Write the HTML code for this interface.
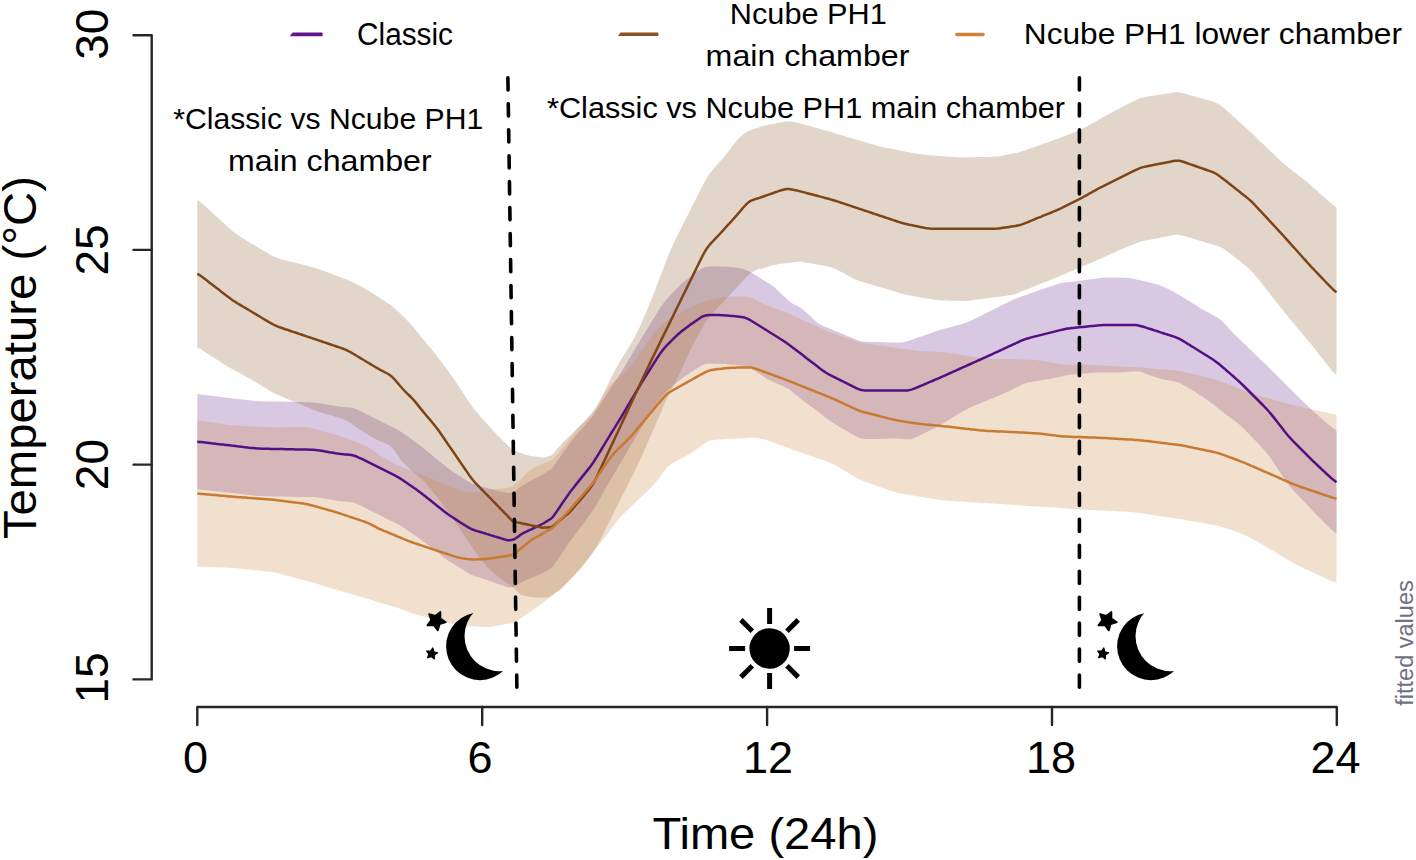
<!DOCTYPE html>
<html><head><meta charset="utf-8"><style>
html,body{margin:0;padding:0;background:#fff;}
body{width:1416px;height:860px;overflow:hidden;position:relative;}
svg{position:absolute;left:0;top:0;}
text{font-family:"Liberation Sans",sans-serif;}
</style></head><body>
<svg width="1416" height="860" viewBox="0 0 1416 860">
<path d="M197.3,394.2 L199.3,394.3 L201.3,394.6 L203.3,394.8 L205.3,395.0 L207.3,395.3 L209.3,395.5 L211.3,395.8 L213.3,396.0 L215.3,396.3 L217.3,396.5 L219.3,396.8 L221.3,397.0 L223.3,397.3 L225.3,397.5 L227.3,397.7 L229.3,398.0 L231.3,398.2 L233.3,398.5 L235.3,398.7 L237.3,398.9 L239.3,399.2 L241.3,399.4 L243.3,399.6 L245.3,399.9 L247.3,400.1 L249.3,400.3 L251.3,400.5 L253.3,400.8 L255.3,401.0 L257.3,401.1 L259.3,401.2 L261.3,401.3 L263.3,401.3 L265.3,401.4 L267.3,401.4 L269.3,401.4 L271.3,401.5 L273.3,401.5 L275.3,401.5 L277.3,401.6 L279.3,401.6 L281.3,401.6 L283.3,401.7 L285.3,401.7 L287.3,401.8 L289.3,401.8 L291.3,401.8 L293.3,401.9 L295.3,401.9 L297.3,402.0 L299.3,402.0 L301.3,402.1 L303.3,402.1 L305.3,402.2 L307.3,402.3 L309.3,402.3 L311.3,402.4 L313.3,402.5 L315.3,402.6 L317.3,402.9 L319.3,403.2 L321.3,403.5 L323.3,403.9 L325.3,404.2 L327.3,404.6 L329.3,404.9 L331.3,405.3 L333.3,405.6 L335.3,406.0 L337.3,406.3 L339.3,406.6 L341.3,406.8 L343.3,407.0 L345.3,407.2 L347.3,407.3 L349.3,407.5 L351.3,407.7 L353.3,408.1 L355.3,408.8 L357.3,409.6 L359.3,410.5 L361.3,411.5 L363.3,412.5 L365.3,413.5 L367.3,414.4 L369.3,415.4 L371.3,416.4 L373.3,417.4 L375.3,418.4 L377.3,419.4 L379.3,420.4 L381.3,421.4 L383.3,422.4 L385.3,423.4 L387.3,424.4 L389.3,425.4 L391.3,426.5 L393.3,427.5 L395.3,428.5 L397.3,429.6 L399.3,430.7 L401.3,432.0 L403.3,433.4 L405.3,434.8 L407.3,436.2 L409.3,437.6 L411.3,439.1 L413.3,440.5 L415.3,441.9 L417.3,443.4 L419.3,444.9 L421.3,446.4 L423.3,448.0 L425.3,449.7 L427.3,451.3 L429.3,453.0 L431.3,454.6 L433.3,456.3 L435.3,457.9 L437.3,459.6 L439.3,461.2 L441.3,462.9 L443.3,464.5 L445.3,466.1 L447.3,467.7 L449.3,469.1 L451.3,470.5 L453.3,471.9 L455.3,473.2 L457.3,474.5 L459.3,475.8 L461.3,477.1 L463.3,478.4 L465.3,479.7 L467.3,481.0 L469.3,482.1 L471.3,483.2 L473.3,484.0 L475.3,484.7 L477.3,485.3 L479.3,485.9 L481.3,486.4 L483.3,487.0 L485.3,487.5 L487.3,488.1 L489.3,488.6 L491.3,489.1 L493.3,489.6 L495.3,490.2 L497.3,490.7 L499.3,491.2 L501.3,491.6 L503.3,492.1 L505.3,492.6 L507.3,493.1 L509.3,493.1 L511.3,492.6 L513.3,492.1 L515.3,491.0 L517.3,489.4 L519.3,487.8 L521.3,486.3 L523.3,484.9 L525.3,483.8 L527.3,482.7 L529.3,481.6 L531.3,480.6 L533.3,479.5 L535.3,478.4 L537.3,477.4 L539.3,476.3 L541.3,475.3 L543.3,474.2 L545.3,472.9 L547.3,471.6 L549.3,470.3 L551.3,469.0 L553.3,466.9 L555.3,464.0 L557.3,461.1 L559.3,458.2 L561.3,455.3 L563.3,452.4 L565.3,449.5 L567.3,446.7 L569.3,443.9 L571.3,441.4 L573.3,439.0 L575.3,436.6 L577.3,434.2 L579.3,431.8 L581.3,429.5 L583.3,427.2 L585.3,424.8 L587.3,422.5 L589.3,420.1 L591.3,417.7 L593.3,415.0 L595.3,412.2 L597.3,409.2 L599.3,406.1 L601.3,403.0 L603.3,399.8 L605.3,396.7 L607.3,393.6 L609.3,390.5 L611.3,387.4 L613.3,384.4 L615.3,381.3 L617.3,378.2 L619.3,375.0 L621.3,371.9 L623.3,368.7 L625.3,365.4 L627.3,362.1 L629.3,358.7 L631.3,355.4 L633.3,352.0 L635.3,348.6 L637.3,345.2 L639.3,341.9 L641.3,338.6 L643.3,335.3 L645.3,332.0 L647.3,328.8 L649.3,325.5 L651.3,322.3 L653.3,319.0 L655.3,315.7 L657.3,312.4 L659.3,309.2 L661.3,306.2 L663.3,303.4 L665.3,300.9 L667.3,298.6 L669.3,296.3 L671.3,294.2 L673.3,292.1 L675.3,290.0 L677.3,287.9 L679.3,285.9 L681.3,284.1 L683.3,282.3 L685.3,280.7 L687.3,279.2 L689.3,277.6 L691.3,276.1 L693.3,274.6 L695.3,273.1 L697.3,271.6 L699.3,270.1 L701.3,268.8 L703.3,267.7 L705.3,267.0 L707.3,266.7 L709.3,266.5 L711.3,266.4 L713.3,266.4 L715.3,266.4 L717.3,266.4 L719.3,266.4 L721.3,266.4 L723.3,266.5 L725.3,266.6 L727.3,266.8 L729.3,267.0 L731.3,267.2 L733.3,267.4 L735.3,267.6 L737.3,267.8 L739.3,268.0 L741.3,268.4 L743.3,269.0 L745.3,269.7 L747.3,270.5 L749.3,271.5 L751.3,272.6 L753.3,273.8 L755.3,275.1 L757.3,276.3 L759.3,277.6 L761.3,278.8 L763.3,280.0 L765.3,281.2 L767.3,282.4 L769.3,283.6 L771.3,285.0 L773.3,286.5 L775.3,288.1 L777.3,290.0 L779.3,291.9 L781.3,293.8 L783.3,295.7 L785.3,297.6 L787.3,299.5 L789.3,301.2 L791.3,302.7 L793.3,303.9 L795.3,304.9 L797.3,305.8 L799.3,306.9 L801.3,308.3 L803.3,309.9 L805.3,311.6 L807.3,313.4 L809.3,315.3 L811.3,317.1 L813.3,318.9 L815.3,320.7 L817.3,322.4 L819.3,323.8 L821.3,325.0 L823.3,325.9 L825.3,326.8 L827.3,327.6 L829.3,328.5 L831.3,329.3 L833.3,330.1 L835.3,331.0 L837.3,331.8 L839.3,332.6 L841.3,333.4 L843.3,334.3 L845.3,335.1 L847.3,335.9 L849.3,336.8 L851.3,337.6 L853.3,338.4 L855.3,339.2 L857.3,340.0 L859.3,340.7 L861.3,341.2 L863.3,341.5 L865.3,341.7 L867.3,341.8 L869.3,341.8 L871.3,341.9 L873.3,342.0 L875.3,342.0 L877.3,342.1 L879.3,342.1 L881.3,342.2 L883.3,342.2 L885.3,342.3 L887.3,342.4 L889.3,342.4 L891.3,342.5 L893.3,342.5 L895.3,342.6 L897.3,342.6 L899.3,342.6 L901.3,342.5 L903.3,342.3 L905.3,341.8 L907.3,341.2 L909.3,340.6 L911.3,339.9 L913.3,339.2 L915.3,338.5 L917.3,337.8 L919.3,337.1 L921.3,336.4 L923.3,335.7 L925.3,335.1 L927.3,334.4 L929.3,333.7 L931.3,333.0 L933.3,332.3 L935.3,331.6 L937.3,331.0 L939.3,330.3 L941.3,329.7 L943.3,329.1 L945.3,328.6 L947.3,328.0 L949.3,327.5 L951.3,326.9 L953.3,326.4 L955.3,325.8 L957.3,325.3 L959.3,324.8 L961.3,324.2 L963.3,323.6 L965.3,323.0 L967.3,322.2 L969.3,321.3 L971.3,320.4 L973.3,319.4 L975.3,318.4 L977.3,317.4 L979.3,316.4 L981.3,315.4 L983.3,314.4 L985.3,313.4 L987.3,312.4 L989.3,311.4 L991.3,310.4 L993.3,309.4 L995.3,308.4 L997.3,307.4 L999.3,306.4 L1001.3,305.4 L1003.3,304.4 L1005.3,303.4 L1007.3,302.4 L1009.3,301.4 L1011.3,300.4 L1013.3,299.6 L1015.3,298.8 L1017.3,298.0 L1019.3,297.3 L1021.3,296.6 L1023.3,295.9 L1025.3,295.2 L1027.3,294.5 L1029.3,293.8 L1031.3,293.1 L1033.3,292.4 L1035.3,291.7 L1037.3,291.0 L1039.3,290.3 L1041.3,289.6 L1043.3,288.9 L1045.3,288.2 L1047.3,287.6 L1049.3,286.9 L1051.3,286.2 L1053.3,285.5 L1055.3,284.8 L1057.3,284.2 L1059.3,283.6 L1061.3,283.2 L1063.3,282.8 L1065.3,282.6 L1067.3,282.3 L1069.3,282.1 L1071.3,281.8 L1073.3,281.5 L1075.3,281.3 L1077.3,281.0 L1079.3,280.8 L1081.3,280.5 L1083.3,280.3 L1085.3,280.0 L1087.3,279.8 L1089.3,279.5 L1091.3,279.3 L1093.3,279.0 L1095.3,278.8 L1097.3,278.5 L1099.3,278.3 L1101.3,278.0 L1103.3,277.8 L1105.3,277.6 L1107.3,277.5 L1109.3,277.5 L1111.3,277.5 L1113.3,277.5 L1115.3,277.6 L1117.3,277.6 L1119.3,277.6 L1121.3,277.7 L1123.3,277.7 L1125.3,277.8 L1127.3,277.9 L1129.3,278.1 L1131.3,278.4 L1133.3,278.8 L1135.3,279.2 L1137.3,279.7 L1139.3,280.1 L1141.3,280.6 L1143.3,281.1 L1145.3,281.5 L1147.3,282.0 L1149.3,282.4 L1151.3,282.9 L1153.3,283.3 L1155.3,283.9 L1157.3,284.4 L1159.3,285.1 L1161.3,285.9 L1163.3,286.8 L1165.3,287.7 L1167.3,288.6 L1169.3,289.5 L1171.3,290.5 L1173.3,291.5 L1175.3,292.7 L1177.3,293.9 L1179.3,295.1 L1181.3,296.3 L1183.3,297.6 L1185.3,298.8 L1187.3,300.1 L1189.3,301.3 L1191.3,302.5 L1193.3,303.8 L1195.3,305.0 L1197.3,306.3 L1199.3,307.5 L1201.3,308.7 L1203.3,309.8 L1205.3,310.9 L1207.3,312.0 L1209.3,313.1 L1211.3,314.2 L1213.3,315.3 L1215.3,316.4 L1217.3,317.5 L1219.3,318.8 L1221.3,320.2 L1223.3,322.1 L1225.3,324.2 L1227.3,326.5 L1229.3,328.9 L1231.3,331.1 L1233.3,333.2 L1235.3,335.2 L1237.3,337.1 L1239.3,339.1 L1241.3,341.0 L1243.3,342.9 L1245.3,344.8 L1247.3,346.7 L1249.3,348.7 L1251.3,350.6 L1253.3,352.5 L1255.3,354.4 L1257.3,356.3 L1259.3,358.3 L1261.3,360.2 L1263.3,362.1 L1265.3,364.0 L1267.3,366.0 L1269.3,367.9 L1271.3,369.9 L1273.3,371.9 L1275.3,373.9 L1277.3,375.9 L1279.3,377.9 L1281.3,379.9 L1283.3,381.9 L1285.3,383.9 L1287.3,385.9 L1289.3,387.9 L1291.3,389.9 L1293.3,391.9 L1295.3,393.9 L1297.3,395.9 L1299.3,397.9 L1301.3,399.9 L1303.3,401.8 L1305.3,403.8 L1307.3,405.6 L1309.3,407.5 L1311.3,409.4 L1313.3,411.2 L1315.3,413.0 L1317.3,414.7 L1319.3,416.5 L1321.3,418.2 L1323.3,420.0 L1325.3,421.7 L1327.3,423.4 L1329.3,425.2 L1331.3,426.8 L1333.3,428.4 L1335.3,429.6 L1336.5,430.4 L1336.5,533.9 L1335.3,532.8 L1333.3,531.3 L1331.3,529.4 L1329.3,527.5 L1327.3,525.5 L1325.3,523.5 L1323.3,521.5 L1321.3,519.5 L1319.3,517.5 L1317.3,515.5 L1315.3,513.4 L1313.3,511.4 L1311.3,509.3 L1309.3,507.1 L1307.3,505.0 L1305.3,502.9 L1303.3,500.9 L1301.3,498.8 L1299.3,496.7 L1297.3,494.6 L1295.3,492.5 L1293.3,490.4 L1291.3,488.1 L1289.3,485.7 L1287.3,483.0 L1285.3,480.2 L1283.3,477.2 L1281.3,474.2 L1279.3,471.2 L1277.3,468.1 L1275.3,465.0 L1273.3,462.0 L1271.3,459.1 L1269.3,456.3 L1267.3,453.7 L1265.3,451.4 L1263.3,449.1 L1261.3,446.9 L1259.3,444.8 L1257.3,442.7 L1255.3,440.6 L1253.3,438.5 L1251.3,436.4 L1249.3,434.4 L1247.3,432.3 L1245.3,430.3 L1243.3,428.3 L1241.3,426.4 L1239.3,424.6 L1237.3,422.9 L1235.3,421.3 L1233.3,419.8 L1231.3,418.4 L1229.3,417.0 L1227.3,415.6 L1225.3,414.1 L1223.3,412.6 L1221.3,411.0 L1219.3,409.3 L1217.3,407.6 L1215.3,406.0 L1213.3,404.4 L1211.3,402.9 L1209.3,401.5 L1207.3,400.1 L1205.3,398.7 L1203.3,397.3 L1201.3,396.0 L1199.3,394.7 L1197.3,393.4 L1195.3,392.1 L1193.3,390.8 L1191.3,389.6 L1189.3,388.4 L1187.3,387.2 L1185.3,386.0 L1183.3,384.9 L1181.3,383.8 L1179.3,382.9 L1177.3,382.3 L1175.3,381.7 L1173.3,381.3 L1171.3,381.0 L1169.3,380.6 L1167.3,380.3 L1165.3,379.9 L1163.3,379.4 L1161.3,378.9 L1159.3,378.4 L1157.3,377.8 L1155.3,377.1 L1153.3,376.4 L1151.3,375.7 L1149.3,375.0 L1147.3,374.2 L1145.3,373.4 L1143.3,372.7 L1141.3,372.1 L1139.3,371.6 L1137.3,371.3 L1135.3,371.3 L1133.3,371.4 L1131.3,371.6 L1129.3,371.8 L1127.3,371.9 L1125.3,372.1 L1123.3,372.2 L1121.3,372.3 L1119.3,372.4 L1117.3,372.5 L1115.3,372.5 L1113.3,372.5 L1111.3,372.6 L1109.3,372.5 L1107.3,372.5 L1105.3,372.5 L1103.3,372.4 L1101.3,372.4 L1099.3,372.5 L1097.3,372.6 L1095.3,372.7 L1093.3,372.8 L1091.3,373.0 L1089.3,373.1 L1087.3,373.3 L1085.3,373.4 L1083.3,373.6 L1081.3,373.7 L1079.3,373.9 L1077.3,374.0 L1075.3,374.2 L1073.3,374.4 L1071.3,374.6 L1069.3,374.8 L1067.3,375.1 L1065.3,375.5 L1063.3,376.0 L1061.3,376.5 L1059.3,377.0 L1057.3,377.4 L1055.3,377.8 L1053.3,378.2 L1051.3,378.6 L1049.3,378.9 L1047.3,379.3 L1045.3,379.6 L1043.3,379.9 L1041.3,380.2 L1039.3,380.5 L1037.3,380.9 L1035.3,381.2 L1033.3,381.5 L1031.3,381.9 L1029.3,382.3 L1027.3,382.8 L1025.3,383.4 L1023.3,384.1 L1021.3,385.0 L1019.3,386.0 L1017.3,387.0 L1015.3,388.0 L1013.3,389.0 L1011.3,390.0 L1009.3,391.0 L1007.3,391.9 L1005.3,392.8 L1003.3,393.7 L1001.3,394.5 L999.3,395.4 L997.3,396.3 L995.3,397.1 L993.3,398.0 L991.3,398.8 L989.3,399.6 L987.3,400.4 L985.3,401.3 L983.3,402.1 L981.3,402.9 L979.3,403.7 L977.3,404.5 L975.3,405.3 L973.3,406.2 L971.3,407.1 L969.3,408.0 L967.3,409.0 L965.3,410.0 L963.3,411.1 L961.3,412.2 L959.3,413.4 L957.3,414.6 L955.3,415.8 L953.3,417.1 L951.3,418.3 L949.3,419.5 L947.3,420.8 L945.3,422.0 L943.3,423.2 L941.3,424.4 L939.3,425.5 L937.3,426.6 L935.3,427.7 L933.3,428.7 L931.3,429.8 L929.3,430.8 L927.3,431.8 L925.3,432.8 L923.3,433.8 L921.3,434.8 L919.3,435.7 L917.3,436.7 L915.3,437.5 L913.3,438.3 L911.3,438.9 L909.3,439.2 L907.3,439.3 L905.3,439.2 L903.3,439.0 L901.3,438.8 L899.3,438.7 L897.3,438.6 L895.3,438.6 L893.3,438.6 L891.3,438.6 L889.3,438.6 L887.3,438.7 L885.3,438.7 L883.3,438.8 L881.3,438.8 L879.3,438.9 L877.3,438.9 L875.3,439.0 L873.3,439.0 L871.3,439.1 L869.3,439.1 L867.3,439.1 L865.3,439.1 L863.3,439.0 L861.3,438.6 L859.3,437.9 L857.3,437.0 L855.3,436.0 L853.3,434.8 L851.3,433.7 L849.3,432.5 L847.3,431.4 L845.3,430.2 L843.3,429.0 L841.3,427.9 L839.3,426.7 L837.3,425.5 L835.3,424.3 L833.3,423.1 L831.3,421.8 L829.3,420.5 L827.3,419.1 L825.3,417.6 L823.3,415.9 L821.3,414.2 L819.3,412.6 L817.3,410.9 L815.3,409.4 L813.3,408.0 L811.3,406.5 L809.3,405.2 L807.3,403.8 L805.3,402.4 L803.3,400.9 L801.3,399.3 L799.3,397.7 L797.3,396.0 L795.3,394.3 L793.3,392.7 L791.3,391.1 L789.3,389.6 L787.3,388.3 L785.3,387.2 L783.3,386.3 L781.3,385.4 L779.3,384.6 L777.3,383.8 L775.3,383.0 L773.3,382.1 L771.3,381.1 L769.3,380.0 L767.3,378.9 L765.3,377.7 L763.3,376.4 L761.3,375.1 L759.3,373.8 L757.3,372.5 L755.3,371.2 L753.3,370.0 L751.3,368.7 L749.3,367.6 L747.3,366.7 L745.3,366.0 L743.3,365.7 L741.3,365.5 L739.3,365.4 L737.3,365.2 L735.3,365.0 L733.3,364.8 L731.3,364.7 L729.3,364.5 L727.3,364.3 L725.3,364.1 L723.3,364.0 L721.3,363.9 L719.3,363.8 L717.3,363.8 L715.3,363.8 L713.3,363.8 L711.3,363.8 L709.3,363.8 L707.3,363.8 L705.3,364.1 L703.3,364.7 L701.3,365.7 L699.3,366.9 L697.3,368.2 L695.3,369.5 L693.3,370.8 L691.3,372.1 L689.3,373.4 L687.3,374.7 L685.3,376.0 L683.3,377.4 L681.3,378.8 L679.3,380.4 L677.3,382.1 L675.3,383.9 L673.3,385.6 L671.3,387.4 L669.3,389.2 L667.3,391.1 L665.3,393.1 L663.3,395.3 L661.3,397.8 L659.3,400.5 L657.3,403.4 L655.3,406.4 L653.3,409.4 L651.3,412.5 L649.3,415.5 L647.3,418.6 L645.3,421.6 L643.3,424.7 L641.3,427.9 L639.3,431.1 L637.3,434.4 L635.3,437.8 L633.3,441.1 L631.3,444.6 L629.3,448.0 L627.3,451.4 L625.3,454.9 L623.3,458.3 L621.3,461.7 L619.3,465.1 L617.3,468.5 L615.3,471.9 L613.3,475.2 L611.3,478.6 L609.3,482.1 L607.3,485.5 L605.3,489.0 L603.3,492.5 L601.3,496.0 L599.3,499.5 L597.3,503.0 L595.3,506.4 L593.3,509.7 L591.3,512.7 L589.3,515.6 L587.3,518.3 L585.3,521.0 L583.3,523.7 L581.3,526.3 L579.3,529.0 L577.3,531.7 L575.3,534.3 L573.3,536.9 L571.3,539.6 L569.3,542.3 L567.3,545.3 L565.3,548.3 L563.3,551.2 L561.3,554.2 L559.3,557.2 L557.3,560.1 L555.3,563.0 L553.3,566.0 L551.3,568.0 L549.3,569.2 L547.3,570.4 L545.3,571.6 L543.3,572.8 L541.3,573.7 L539.3,574.6 L537.3,575.5 L535.3,576.3 L533.3,577.1 L531.3,578.0 L529.3,578.8 L527.3,579.6 L525.3,580.4 L523.3,581.3 L521.3,582.4 L519.3,583.6 L517.3,584.9 L515.3,586.2 L513.3,587.1 L511.3,587.3 L509.3,587.6 L507.3,587.3 L505.3,586.5 L503.3,585.8 L501.3,585.1 L499.3,584.4 L497.3,583.7 L495.3,583.0 L493.3,582.3 L491.3,581.6 L489.3,580.9 L487.3,580.2 L485.3,579.6 L483.3,578.9 L481.3,578.3 L479.3,577.6 L477.3,577.0 L475.3,576.3 L473.3,575.6 L471.3,574.8 L469.3,573.7 L467.3,572.6 L465.3,571.3 L463.3,570.1 L461.3,568.8 L459.3,567.6 L457.3,566.3 L455.3,565.1 L453.3,563.8 L451.3,562.6 L449.3,561.3 L447.3,559.9 L445.3,558.4 L443.3,556.9 L441.3,555.4 L439.3,553.8 L437.3,552.3 L435.3,550.8 L433.3,549.2 L431.3,547.7 L429.3,546.1 L427.3,544.6 L425.3,543.0 L423.3,541.5 L421.3,540.0 L419.3,538.5 L417.3,537.1 L415.3,535.7 L413.3,534.4 L411.3,533.0 L409.3,531.7 L407.3,530.3 L405.3,529.0 L403.3,527.6 L401.3,526.3 L399.3,525.1 L397.3,524.0 L395.3,522.9 L393.3,522.0 L391.3,521.0 L389.3,520.0 L387.3,519.0 L385.3,518.0 L383.3,517.0 L381.3,516.0 L379.3,515.0 L377.3,514.0 L375.3,513.0 L373.3,512.0 L371.3,511.0 L369.3,510.0 L367.3,509.0 L365.3,508.0 L363.3,507.0 L361.3,506.0 L359.3,505.0 L357.3,504.1 L355.3,503.2 L353.3,502.6 L351.3,502.2 L349.3,501.9 L347.3,501.8 L345.3,501.6 L343.3,501.4 L341.3,501.2 L339.3,501.0 L337.3,500.7 L335.3,500.4 L333.3,500.1 L331.3,499.7 L329.3,499.4 L327.3,499.1 L325.3,498.7 L323.3,498.4 L321.3,498.1 L319.3,497.7 L317.3,497.5 L315.3,497.3 L313.3,497.1 L311.3,497.1 L309.3,497.0 L307.3,497.0 L305.3,497.0 L303.3,496.9 L301.3,496.9 L299.3,496.9 L297.3,496.9 L295.3,496.8 L293.3,496.8 L291.3,496.7 L289.3,496.7 L287.3,496.7 L285.3,496.6 L283.3,496.6 L281.3,496.5 L279.3,496.5 L277.3,496.5 L275.3,496.4 L273.3,496.4 L271.3,496.3 L269.3,496.3 L267.3,496.2 L265.3,496.2 L263.3,496.1 L261.3,496.1 L259.3,496.0 L257.3,495.9 L255.3,495.7 L253.3,495.5 L251.3,495.2 L249.3,495.0 L247.3,494.8 L245.3,494.5 L243.3,494.3 L241.3,494.1 L239.3,493.8 L237.3,493.6 L235.3,493.4 L233.3,493.1 L231.3,492.9 L229.3,492.7 L227.3,492.5 L225.3,492.3 L223.3,492.0 L221.3,491.8 L219.3,491.6 L217.3,491.4 L215.3,491.2 L213.3,490.9 L211.3,490.7 L209.3,490.5 L207.3,490.3 L205.3,490.1 L203.3,489.9 L201.3,489.7 L199.3,489.5 L197.3,489.4 Z" fill="#68228B" fill-opacity="0.25"/>
<path d="M197.3,200.2 L199.3,201.3 L201.3,202.8 L203.3,204.5 L205.3,206.3 L207.3,208.1 L209.3,210.0 L211.3,211.8 L213.3,213.6 L215.3,215.5 L217.3,217.3 L219.3,219.1 L221.3,221.0 L223.3,222.8 L225.3,224.6 L227.3,226.5 L229.3,228.3 L231.3,230.0 L233.3,231.7 L235.3,233.2 L237.3,234.6 L239.3,236.0 L241.3,237.2 L243.3,238.5 L245.3,239.7 L247.3,240.9 L249.3,242.2 L251.3,243.4 L253.3,244.6 L255.3,245.8 L257.3,247.0 L259.3,248.2 L261.3,249.4 L263.3,250.6 L265.3,251.8 L267.3,253.0 L269.3,254.2 L271.3,255.4 L273.3,256.4 L275.3,257.3 L277.3,258.1 L279.3,258.7 L281.3,259.3 L283.3,259.8 L285.3,260.3 L287.3,260.8 L289.3,261.3 L291.3,261.8 L293.3,262.3 L295.3,262.8 L297.3,263.3 L299.3,263.8 L301.3,264.3 L303.3,264.8 L305.3,265.3 L307.3,265.9 L309.3,266.4 L311.3,266.9 L313.3,267.5 L315.3,268.0 L317.3,268.7 L319.3,269.3 L321.3,270.0 L323.3,270.8 L325.3,271.5 L327.3,272.3 L329.3,273.1 L331.3,273.8 L333.3,274.6 L335.3,275.4 L337.3,276.1 L339.3,276.9 L341.3,277.6 L343.3,278.4 L345.3,279.1 L347.3,279.8 L349.3,280.7 L351.3,281.6 L353.3,282.5 L355.3,283.5 L357.3,284.5 L359.3,285.5 L361.3,286.6 L363.3,287.8 L365.3,289.0 L367.3,290.1 L369.3,291.3 L371.3,292.5 L373.3,293.8 L375.3,295.0 L377.3,296.3 L379.3,297.6 L381.3,298.9 L383.3,300.3 L385.3,301.6 L387.3,302.9 L389.3,304.2 L391.3,305.6 L393.3,307.2 L395.3,308.9 L397.3,310.7 L399.3,312.6 L401.3,314.4 L403.3,316.4 L405.3,318.3 L407.3,320.4 L409.3,322.5 L411.3,324.7 L413.3,327.0 L415.3,329.4 L417.3,331.9 L419.3,334.4 L421.3,336.9 L423.3,339.3 L425.3,341.8 L427.3,344.2 L429.3,346.6 L431.3,349.1 L433.3,351.5 L435.3,354.0 L437.3,356.6 L439.3,359.2 L441.3,361.8 L443.3,364.5 L445.3,367.1 L447.3,369.8 L449.3,372.5 L451.3,375.3 L453.3,378.2 L455.3,381.2 L457.3,384.1 L459.3,387.2 L461.3,390.2 L463.3,393.3 L465.3,396.3 L467.3,399.4 L469.3,402.4 L471.3,405.3 L473.3,408.0 L475.3,410.5 L477.3,412.8 L479.3,415.1 L481.3,417.4 L483.3,419.6 L485.3,421.9 L487.3,424.1 L489.3,426.3 L491.3,428.5 L493.3,430.7 L495.3,432.8 L497.3,434.9 L499.3,436.9 L501.3,439.0 L503.3,441.0 L505.3,443.1 L507.3,445.0 L509.3,446.9 L511.3,448.8 L513.3,450.4 L515.3,450.9 L517.3,451.6 L519.3,452.4 L521.3,453.2 L523.3,454.0 L525.3,454.6 L527.3,455.2 L529.3,455.6 L531.3,456.0 L533.3,456.3 L535.3,456.6 L537.3,456.9 L539.3,457.1 L541.3,457.4 L543.3,457.5 L545.3,457.2 L547.3,456.7 L549.3,456.1 L551.3,455.3 L553.3,453.5 L555.3,451.2 L557.3,448.8 L559.3,446.5 L561.3,444.3 L563.3,442.1 L565.3,440.1 L567.3,438.2 L569.3,436.3 L571.3,434.3 L573.3,432.3 L575.3,430.3 L577.3,428.3 L579.3,426.3 L581.3,424.3 L583.3,422.3 L585.3,420.2 L587.3,418.0 L589.3,415.8 L591.3,413.4 L593.3,410.9 L595.3,408.0 L597.3,404.8 L599.3,401.4 L601.3,397.8 L603.3,394.0 L605.3,390.0 L607.3,385.9 L609.3,381.7 L611.3,377.6 L613.3,373.6 L615.3,369.7 L617.3,366.1 L619.3,362.6 L621.3,359.3 L623.3,356.0 L625.3,352.8 L627.3,349.6 L629.3,346.4 L631.3,343.0 L633.3,339.5 L635.3,335.8 L637.3,331.8 L639.3,327.7 L641.3,323.3 L643.3,318.7 L645.3,314.1 L647.3,309.4 L649.3,304.6 L651.3,299.8 L653.3,294.8 L655.3,289.8 L657.3,284.6 L659.3,279.2 L661.3,273.8 L663.3,268.4 L665.3,263.0 L667.3,257.9 L669.3,253.0 L671.3,248.4 L673.3,244.0 L675.3,239.8 L677.3,235.7 L679.3,231.7 L681.3,227.7 L683.3,223.7 L685.3,219.8 L687.3,215.9 L689.3,211.9 L691.3,208.0 L693.3,204.0 L695.3,200.1 L697.3,196.2 L699.3,192.2 L701.3,188.1 L703.3,184.2 L705.3,180.4 L707.3,176.9 L709.3,174.0 L711.3,171.4 L713.3,169.0 L715.3,166.7 L717.3,164.5 L719.3,162.3 L721.3,160.0 L723.3,157.7 L725.3,155.3 L727.3,152.9 L729.3,150.3 L731.3,147.6 L733.3,145.0 L735.3,142.4 L737.3,140.0 L739.3,137.8 L741.3,135.9 L743.3,134.2 L745.3,132.7 L747.3,131.5 L749.3,130.6 L751.3,129.9 L753.3,129.2 L755.3,128.6 L757.3,128.0 L759.3,127.3 L761.3,126.6 L763.3,126.0 L765.3,125.5 L767.3,125.0 L769.3,124.6 L771.3,124.2 L773.3,123.9 L775.3,123.5 L777.3,123.2 L779.3,122.8 L781.3,122.4 L783.3,121.9 L785.3,121.6 L787.3,121.4 L789.3,121.4 L791.3,121.6 L793.3,121.9 L795.3,122.3 L797.3,122.7 L799.3,123.2 L801.3,123.7 L803.3,124.3 L805.3,124.9 L807.3,125.4 L809.3,126.0 L811.3,126.6 L813.3,127.1 L815.3,127.7 L817.3,128.2 L819.3,128.8 L821.3,129.3 L823.3,129.9 L825.3,130.4 L827.3,131.0 L829.3,131.5 L831.3,132.1 L833.3,132.7 L835.3,133.3 L837.3,133.9 L839.3,134.5 L841.3,135.1 L843.3,135.7 L845.3,136.3 L847.3,136.9 L849.3,137.5 L851.3,138.1 L853.3,138.7 L855.3,139.3 L857.3,139.9 L859.3,140.5 L861.3,141.1 L863.3,141.7 L865.3,142.3 L867.3,142.9 L869.3,143.4 L871.3,144.0 L873.3,144.6 L875.3,145.2 L877.3,145.7 L879.3,146.2 L881.3,146.7 L883.3,147.2 L885.3,147.6 L887.3,148.0 L889.3,148.4 L891.3,148.8 L893.3,149.2 L895.3,149.6 L897.3,150.0 L899.3,150.4 L901.3,150.8 L903.3,151.2 L905.3,151.6 L907.3,152.0 L909.3,152.3 L911.3,152.7 L913.3,153.1 L915.3,153.4 L917.3,153.8 L919.3,154.1 L921.3,154.4 L923.3,154.6 L925.3,154.9 L927.3,155.1 L929.3,155.3 L931.3,155.4 L933.3,155.5 L935.3,155.6 L937.3,155.8 L939.3,155.9 L941.3,156.1 L943.3,156.2 L945.3,156.4 L947.3,156.5 L949.3,156.7 L951.3,156.8 L953.3,157.0 L955.3,157.1 L957.3,157.2 L959.3,157.3 L961.3,157.3 L963.3,157.4 L965.3,157.3 L967.3,157.3 L969.3,157.3 L971.3,157.3 L973.3,157.2 L975.3,157.2 L977.3,157.1 L979.3,157.1 L981.3,157.0 L983.3,157.0 L985.3,157.0 L987.3,156.9 L989.3,156.9 L991.3,156.8 L993.3,156.7 L995.3,156.6 L997.3,156.4 L999.3,156.2 L1001.3,155.8 L1003.3,155.4 L1005.3,155.0 L1007.3,154.6 L1009.3,154.2 L1011.3,153.8 L1013.3,153.5 L1015.3,153.1 L1017.3,152.7 L1019.3,152.2 L1021.3,151.6 L1023.3,151.0 L1025.3,150.2 L1027.3,149.5 L1029.3,148.8 L1031.3,148.1 L1033.3,147.4 L1035.3,146.7 L1037.3,146.0 L1039.3,145.3 L1041.3,144.6 L1043.3,143.8 L1045.3,143.1 L1047.3,142.4 L1049.3,141.7 L1051.3,141.0 L1053.3,140.3 L1055.3,139.6 L1057.3,138.9 L1059.3,138.2 L1061.3,137.4 L1063.3,136.6 L1065.3,135.8 L1067.3,135.0 L1069.3,134.2 L1071.3,133.4 L1073.3,132.6 L1075.3,131.8 L1077.3,131.0 L1079.3,130.2 L1081.3,129.3 L1083.3,128.3 L1085.3,127.3 L1087.3,126.2 L1089.3,125.1 L1091.3,124.0 L1093.3,122.8 L1095.3,121.7 L1097.3,120.5 L1099.3,119.4 L1101.3,118.3 L1103.3,117.2 L1105.3,116.0 L1107.3,114.9 L1109.3,113.8 L1111.3,112.7 L1113.3,111.6 L1115.3,110.5 L1117.3,109.5 L1119.3,108.4 L1121.3,107.3 L1123.3,106.3 L1125.3,105.3 L1127.3,104.3 L1129.3,103.3 L1131.3,102.4 L1133.3,101.4 L1135.3,100.4 L1137.3,99.5 L1139.3,98.6 L1141.3,97.9 L1143.3,97.4 L1145.3,97.0 L1147.3,96.6 L1149.3,96.3 L1151.3,96.0 L1153.3,95.7 L1155.3,95.4 L1157.3,95.1 L1159.3,94.8 L1161.3,94.5 L1163.3,94.2 L1165.3,93.8 L1167.3,93.5 L1169.3,93.2 L1171.3,92.9 L1173.3,92.6 L1175.3,92.3 L1177.3,92.2 L1179.3,92.3 L1181.3,92.7 L1183.3,93.2 L1185.3,93.7 L1187.3,94.3 L1189.3,94.9 L1191.3,95.5 L1193.3,96.0 L1195.3,96.6 L1197.3,97.2 L1199.3,97.8 L1201.3,98.3 L1203.3,98.9 L1205.3,99.5 L1207.3,100.0 L1209.3,100.6 L1211.3,101.1 L1213.3,101.7 L1215.3,102.4 L1217.3,103.4 L1219.3,104.6 L1221.3,106.0 L1223.3,107.6 L1225.3,109.3 L1227.3,111.0 L1229.3,112.8 L1231.3,114.6 L1233.3,116.4 L1235.3,118.2 L1237.3,120.0 L1239.3,121.9 L1241.3,123.7 L1243.3,125.5 L1245.3,127.2 L1247.3,129.0 L1249.3,130.8 L1251.3,132.6 L1253.3,134.6 L1255.3,136.5 L1257.3,138.5 L1259.3,140.4 L1261.3,142.4 L1263.3,144.3 L1265.3,146.2 L1267.3,148.1 L1269.3,150.0 L1271.3,151.9 L1273.3,153.8 L1275.3,155.8 L1277.3,157.7 L1279.3,159.5 L1281.3,161.4 L1283.3,163.2 L1285.3,164.9 L1287.3,166.6 L1289.3,168.2 L1291.3,169.8 L1293.3,171.3 L1295.3,172.8 L1297.3,174.3 L1299.3,175.9 L1301.3,177.4 L1303.3,179.0 L1305.3,180.6 L1307.3,182.3 L1309.3,184.0 L1311.3,185.7 L1313.3,187.5 L1315.3,189.3 L1317.3,191.1 L1319.3,192.9 L1321.3,194.7 L1323.3,196.5 L1325.3,198.3 L1327.3,200.1 L1329.3,201.9 L1331.3,203.6 L1333.3,205.2 L1335.3,206.6 L1336.5,207.5 L1336.5,375.1 L1335.3,374.0 L1333.3,372.2 L1331.3,369.9 L1329.3,367.4 L1327.3,364.9 L1325.3,362.3 L1323.3,359.8 L1321.3,357.2 L1319.3,354.7 L1317.3,352.1 L1315.3,349.6 L1313.3,347.1 L1311.3,344.6 L1309.3,342.2 L1307.3,339.8 L1305.3,337.4 L1303.3,335.0 L1301.3,332.6 L1299.3,330.2 L1297.3,327.8 L1295.3,325.4 L1293.3,323.0 L1291.3,320.6 L1289.3,318.2 L1287.3,315.8 L1285.3,313.3 L1283.3,310.8 L1281.3,308.3 L1279.3,305.8 L1277.3,303.3 L1275.3,300.7 L1273.3,298.2 L1271.3,295.7 L1269.3,293.1 L1267.3,290.6 L1265.3,288.1 L1263.3,285.6 L1261.3,283.0 L1259.3,280.5 L1257.3,278.0 L1255.3,275.5 L1253.3,273.1 L1251.3,270.9 L1249.3,268.9 L1247.3,267.2 L1245.3,265.6 L1243.3,264.0 L1241.3,262.4 L1239.3,260.8 L1237.3,259.3 L1235.3,257.7 L1233.3,256.1 L1231.3,254.6 L1229.3,253.0 L1227.3,251.5 L1225.3,250.0 L1223.3,248.6 L1221.3,247.5 L1219.3,246.6 L1217.3,245.9 L1215.3,245.3 L1213.3,244.7 L1211.3,244.1 L1209.3,243.5 L1207.3,242.9 L1205.3,242.3 L1203.3,241.7 L1201.3,241.1 L1199.3,240.5 L1197.3,239.9 L1195.3,239.3 L1193.3,238.7 L1191.3,238.1 L1189.3,237.5 L1187.3,236.9 L1185.3,236.3 L1183.3,235.7 L1181.3,235.2 L1179.3,234.9 L1177.3,234.8 L1175.3,234.9 L1173.3,235.2 L1171.3,235.6 L1169.3,236.0 L1167.3,236.4 L1165.3,236.7 L1163.3,237.1 L1161.3,237.5 L1159.3,237.9 L1157.3,238.3 L1155.3,238.7 L1153.3,239.1 L1151.3,239.5 L1149.3,239.8 L1147.3,240.2 L1145.3,240.6 L1143.3,241.1 L1141.3,241.6 L1139.3,242.2 L1137.3,242.9 L1135.3,243.7 L1133.3,244.5 L1131.3,245.3 L1129.3,246.1 L1127.3,246.9 L1125.3,247.7 L1123.3,248.5 L1121.3,249.3 L1119.3,250.2 L1117.3,251.1 L1115.3,252.0 L1113.3,252.9 L1111.3,253.8 L1109.3,254.7 L1107.3,255.6 L1105.3,256.6 L1103.3,257.5 L1101.3,258.4 L1099.3,259.3 L1097.3,260.1 L1095.3,261.0 L1093.3,261.9 L1091.3,262.7 L1089.3,263.6 L1087.3,264.4 L1085.3,265.3 L1083.3,266.1 L1081.3,267.0 L1079.3,267.8 L1077.3,268.7 L1075.3,269.6 L1073.3,270.4 L1071.3,271.3 L1069.3,272.1 L1067.3,273.0 L1065.3,273.8 L1063.3,274.7 L1061.3,275.5 L1059.3,276.4 L1057.3,277.2 L1055.3,278.0 L1053.3,278.8 L1051.3,279.6 L1049.3,280.4 L1047.3,281.2 L1045.3,282.0 L1043.3,282.8 L1041.3,283.6 L1039.3,284.4 L1037.3,285.2 L1035.3,286.0 L1033.3,286.8 L1031.3,287.6 L1029.3,288.4 L1027.3,289.2 L1025.3,290.0 L1023.3,290.8 L1021.3,291.6 L1019.3,292.4 L1017.3,293.2 L1015.3,293.9 L1013.3,294.5 L1011.3,295.0 L1009.3,295.3 L1007.3,295.6 L1005.3,295.9 L1003.3,296.2 L1001.3,296.4 L999.3,296.7 L997.3,297.0 L995.3,297.2 L993.3,297.5 L991.3,297.7 L989.3,298.0 L987.3,298.3 L985.3,298.5 L983.3,298.8 L981.3,299.1 L979.3,299.3 L977.3,299.6 L975.3,299.8 L973.3,300.1 L971.3,300.4 L969.3,300.6 L967.3,300.8 L965.3,300.9 L963.3,300.9 L961.3,300.9 L959.3,300.9 L957.3,300.8 L955.3,300.8 L953.3,300.8 L951.3,300.7 L949.3,300.7 L947.3,300.6 L945.3,300.6 L943.3,300.5 L941.3,300.4 L939.3,300.3 L937.3,300.1 L935.3,299.8 L933.3,299.5 L931.3,299.2 L929.3,298.9 L927.3,298.6 L925.3,298.3 L923.3,298.0 L921.3,297.7 L919.3,297.3 L917.3,296.9 L915.3,296.5 L913.3,296.1 L911.3,295.7 L909.3,295.3 L907.3,294.9 L905.3,294.5 L903.3,294.0 L901.3,293.5 L899.3,292.9 L897.3,292.3 L895.3,291.7 L893.3,291.1 L891.3,290.5 L889.3,289.9 L887.3,289.3 L885.3,288.7 L883.3,288.1 L881.3,287.5 L879.3,286.9 L877.3,286.3 L875.3,285.7 L873.3,285.2 L871.3,284.6 L869.3,284.0 L867.3,283.4 L865.3,282.8 L863.3,282.2 L861.3,281.6 L859.3,280.9 L857.3,280.2 L855.3,279.4 L853.3,278.4 L851.3,277.4 L849.3,276.3 L847.3,275.2 L845.3,274.1 L843.3,273.0 L841.3,271.9 L839.3,270.9 L837.3,269.8 L835.3,268.8 L833.3,267.9 L831.3,267.3 L829.3,266.8 L827.3,266.4 L825.3,266.0 L823.3,265.6 L821.3,265.3 L819.3,264.9 L817.3,264.5 L815.3,264.2 L813.3,263.8 L811.3,263.5 L809.3,263.1 L807.3,262.7 L805.3,262.4 L803.3,262.1 L801.3,261.8 L799.3,261.8 L797.3,261.8 L795.3,262.0 L793.3,262.3 L791.3,262.5 L789.3,262.8 L787.3,263.0 L785.3,263.3 L783.3,263.6 L781.3,263.8 L779.3,264.1 L777.3,264.4 L775.3,264.7 L773.3,265.1 L771.3,265.6 L769.3,266.2 L767.3,266.9 L765.3,267.6 L763.3,268.3 L761.3,269.0 L759.3,268.8 L757.3,269.5 L755.3,270.4 L753.3,271.5 L751.3,272.7 L749.3,274.3 L747.3,276.1 L745.3,278.2 L743.3,280.3 L741.3,282.5 L739.3,284.7 L737.3,286.9 L735.3,289.0 L733.3,291.2 L731.3,293.4 L729.3,295.6 L727.3,297.7 L725.3,299.8 L723.3,301.9 L721.3,304.0 L719.3,306.1 L717.3,308.2 L715.3,310.3 L713.3,312.5 L711.3,314.7 L709.3,317.1 L707.3,319.8 L705.3,322.8 L703.3,326.1 L701.3,329.5 L699.3,333.0 L697.3,336.6 L695.3,340.3 L693.3,344.1 L691.3,348.1 L689.3,352.2 L687.3,356.5 L685.3,360.8 L683.3,365.2 L681.3,369.7 L679.3,374.0 L677.3,378.3 L675.3,382.3 L673.3,386.1 L671.3,389.8 L669.3,393.5 L667.3,397.5 L665.3,401.9 L663.3,406.6 L661.3,411.3 L659.3,416.0 L657.3,420.7 L655.3,425.3 L653.3,429.9 L651.3,434.5 L649.3,439.0 L647.3,443.6 L645.3,448.2 L643.3,452.7 L641.3,457.2 L639.3,461.6 L637.3,465.8 L635.3,469.9 L633.3,473.9 L631.3,477.9 L629.3,481.9 L627.3,485.9 L625.3,489.9 L623.3,493.9 L621.3,497.8 L619.3,501.8 L617.3,505.8 L615.3,509.9 L613.3,513.9 L611.3,517.9 L609.3,521.9 L607.3,526.0 L605.3,530.1 L603.3,534.1 L601.3,538.1 L599.3,541.9 L597.3,545.5 L595.3,548.8 L593.3,551.9 L591.3,554.8 L589.3,557.5 L587.3,560.0 L585.3,562.4 L583.3,564.8 L581.3,567.1 L579.3,569.4 L577.3,571.6 L575.3,573.8 L573.3,576.0 L571.3,578.2 L569.3,580.4 L567.3,582.5 L565.3,584.7 L563.3,586.9 L561.3,589.1 L559.3,590.6 L557.3,591.5 L555.3,592.7 L553.3,594.0 L551.3,595.3 L549.3,596.7 L547.3,597.6 L545.3,597.6 L543.3,597.6 L541.3,597.6 L539.3,597.6 L537.3,597.6 L535.3,597.6 L533.3,597.5 L531.3,597.1 L529.3,596.7 L527.3,596.3 L525.3,595.9 L523.3,595.5 L521.3,595.1 L519.3,594.0 L517.3,591.7 L515.3,589.4 L513.3,587.7 L511.3,586.2 L509.3,584.8 L507.3,583.3 L505.3,581.9 L503.3,580.4 L501.3,578.9 L499.3,577.4 L497.3,575.8 L495.3,574.2 L493.3,572.6 L491.3,571.0 L489.3,569.1 L487.3,566.9 L485.3,564.6 L483.3,562.3 L481.3,560.0 L479.3,557.5 L477.3,554.6 L475.3,551.7 L473.3,548.8 L471.3,545.8 L469.3,542.8 L467.3,539.8 L465.3,536.8 L463.3,533.9 L461.3,530.9 L459.3,527.9 L457.3,524.9 L455.3,522.0 L453.3,519.2 L451.3,516.3 L449.3,513.5 L447.3,510.7 L445.3,508.0 L443.3,505.2 L441.3,502.4 L439.3,499.8 L437.3,497.2 L435.3,494.8 L433.3,492.4 L431.3,490.0 L429.3,487.7 L427.3,485.3 L425.3,483.1 L423.3,480.9 L421.3,479.0 L419.3,477.2 L417.3,475.5 L415.3,473.8 L413.3,472.2 L411.3,470.4 L409.3,468.6 L407.3,466.6 L405.3,464.6 L403.3,462.7 L401.3,461.1 L399.3,457.4 L397.3,454.4 L395.3,451.5 L393.3,448.9 L391.3,446.8 L389.3,445.2 L387.3,444.1 L385.3,443.3 L383.3,442.6 L381.3,441.8 L379.3,441.0 L377.3,440.0 L375.3,438.9 L373.3,437.8 L371.3,436.6 L369.3,435.4 L367.3,434.2 L365.3,433.0 L363.3,431.8 L361.3,430.5 L359.3,429.2 L357.3,427.9 L355.3,426.5 L353.3,425.1 L351.3,423.6 L349.3,422.3 L347.3,421.1 L345.3,420.0 L343.3,419.2 L341.3,418.5 L339.3,417.9 L337.3,417.3 L335.3,416.7 L333.3,416.1 L331.3,415.5 L329.3,414.9 L327.3,414.4 L325.3,413.8 L323.3,413.2 L321.3,412.5 L319.3,411.9 L317.3,411.2 L315.3,410.5 L313.3,409.7 L311.3,408.9 L309.3,408.1 L307.3,407.3 L305.3,406.4 L303.3,405.6 L301.3,404.7 L299.3,403.9 L297.3,403.1 L295.3,402.2 L293.3,401.4 L291.3,400.5 L289.3,399.7 L287.3,398.9 L285.3,398.0 L283.3,397.2 L281.3,396.4 L279.3,395.5 L277.3,394.7 L275.3,393.7 L273.3,392.7 L271.3,391.5 L269.3,390.4 L267.3,389.2 L265.3,388.0 L263.3,386.8 L261.3,385.6 L259.3,384.4 L257.3,383.3 L255.3,382.1 L253.3,380.9 L251.3,379.7 L249.3,378.5 L247.3,377.4 L245.3,376.2 L243.3,375.0 L241.3,373.9 L239.3,372.8 L237.3,371.7 L235.3,370.7 L233.3,369.6 L231.3,368.5 L229.3,367.4 L227.3,366.2 L225.3,364.9 L223.3,363.7 L221.3,362.4 L219.3,361.1 L217.3,359.9 L215.3,358.6 L213.3,357.3 L211.3,356.0 L209.3,354.8 L207.3,353.5 L205.3,352.2 L203.3,350.9 L201.3,349.6 L199.3,348.5 L197.3,347.7 Z" fill="#8B5A2B" fill-opacity="0.25"/>
<path d="M197.3,420.5 L199.3,420.7 L201.3,420.9 L203.3,421.2 L205.3,421.4 L207.3,421.7 L209.3,422.0 L211.3,422.3 L213.3,422.6 L215.3,422.9 L217.3,423.2 L219.3,423.5 L221.3,423.8 L223.3,424.1 L225.3,424.4 L227.3,424.7 L229.3,424.9 L231.3,425.1 L233.3,425.3 L235.3,425.5 L237.3,425.6 L239.3,425.8 L241.3,425.9 L243.3,426.0 L245.3,426.1 L247.3,426.2 L249.3,426.3 L251.3,426.4 L253.3,426.5 L255.3,426.6 L257.3,426.7 L259.3,426.8 L261.3,426.9 L263.3,427.0 L265.3,427.1 L267.3,427.2 L269.3,427.3 L271.3,427.4 L273.3,427.4 L275.3,427.4 L277.3,427.4 L279.3,427.4 L281.3,427.4 L283.3,427.4 L285.3,427.3 L287.3,427.3 L289.3,427.3 L291.3,427.2 L293.3,427.2 L295.3,427.1 L297.3,427.1 L299.3,427.1 L301.3,427.0 L303.3,427.1 L305.3,427.2 L307.3,427.4 L309.3,427.7 L311.3,428.2 L313.3,428.7 L315.3,429.2 L317.3,429.8 L319.3,430.3 L321.3,430.8 L323.3,431.4 L325.3,431.9 L327.3,432.4 L329.3,433.0 L331.3,433.5 L333.3,434.1 L335.3,434.7 L337.3,435.3 L339.3,436.0 L341.3,436.7 L343.3,437.4 L345.3,438.1 L347.3,438.8 L349.3,439.6 L351.3,440.3 L353.3,441.1 L355.3,441.8 L357.3,442.5 L359.3,443.3 L361.3,444.1 L363.3,444.9 L365.3,445.8 L367.3,446.8 L369.3,448.0 L371.3,449.3 L373.3,450.7 L375.3,452.2 L377.3,453.6 L379.3,455.0 L381.3,456.3 L383.3,457.5 L385.3,458.6 L387.3,459.7 L389.3,460.7 L391.3,461.8 L393.3,462.8 L395.3,463.9 L397.3,464.9 L399.3,465.8 L401.3,466.8 L403.3,467.7 L405.3,468.5 L407.3,469.3 L409.3,470.2 L411.3,470.9 L413.3,471.7 L415.3,472.5 L417.3,473.2 L419.3,474.0 L421.3,474.8 L423.3,475.5 L425.3,476.3 L427.3,477.1 L429.3,477.9 L431.3,478.7 L433.3,479.6 L435.3,480.4 L437.3,481.2 L439.3,482.1 L441.3,482.9 L443.3,483.8 L445.3,484.6 L447.3,485.5 L449.3,486.3 L451.3,487.2 L453.3,488.0 L455.3,488.8 L457.3,489.5 L459.3,490.2 L461.3,490.8 L463.3,491.3 L465.3,491.7 L467.3,492.1 L469.3,492.3 L471.3,492.4 L473.3,492.4 L475.3,492.3 L477.3,492.1 L479.3,491.8 L481.3,491.6 L483.3,491.3 L485.3,490.9 L487.3,490.5 L489.3,490.1 L491.3,489.7 L493.3,489.4 L495.3,489.2 L497.3,489.0 L499.3,488.8 L501.3,488.6 L503.3,488.4 L505.3,488.2 L507.3,487.9 L509.3,487.6 L511.3,487.2 L513.3,486.3 L515.3,484.3 L517.3,482.3 L519.3,480.4 L521.3,478.4 L523.3,476.5 L525.3,474.6 L527.3,472.8 L529.3,471.0 L531.3,469.3 L533.3,468.1 L535.3,467.1 L537.3,466.2 L539.3,465.3 L541.3,464.5 L543.3,463.8 L545.3,463.0 L547.3,462.2 L549.3,461.4 L551.3,460.4 L553.3,458.8 L555.3,456.6 L557.3,454.2 L559.3,451.8 L561.3,449.4 L563.3,447.0 L565.3,444.6 L567.3,442.2 L569.3,439.8 L571.3,437.2 L573.3,434.6 L575.3,432.0 L577.3,429.6 L579.3,427.3 L581.3,425.2 L583.3,423.2 L585.3,421.3 L587.3,419.3 L589.3,417.3 L591.3,415.1 L593.3,412.6 L595.3,409.8 L597.3,406.6 L599.3,403.2 L601.3,399.6 L603.3,396.1 L605.3,392.6 L607.3,389.4 L609.3,386.6 L611.3,384.1 L613.3,382.1 L615.3,380.4 L617.3,378.9 L619.3,377.3 L621.3,375.6 L623.3,373.8 L625.3,371.8 L627.3,369.7 L629.3,367.5 L631.3,365.0 L633.3,362.4 L635.3,359.6 L637.3,356.8 L639.3,354.0 L641.3,351.2 L643.3,348.3 L645.3,345.5 L647.3,342.6 L649.3,339.8 L651.3,337.1 L653.3,334.5 L655.3,332.0 L657.3,329.7 L659.3,327.6 L661.3,325.7 L663.3,323.8 L665.3,322.1 L667.3,320.7 L669.3,319.4 L671.3,318.3 L673.3,317.1 L675.3,316.0 L677.3,314.8 L679.3,313.7 L681.3,312.5 L683.3,311.3 L685.3,310.2 L687.3,309.1 L689.3,308.0 L691.3,307.1 L693.3,306.2 L695.3,305.4 L697.3,304.6 L699.3,303.8 L701.3,303.1 L703.3,302.3 L705.3,301.6 L707.3,300.8 L709.3,300.2 L711.3,299.8 L713.3,299.4 L715.3,299.0 L717.3,298.7 L719.3,298.3 L721.3,297.9 L723.3,297.5 L725.3,297.2 L727.3,296.9 L729.3,296.8 L731.3,296.7 L733.3,296.6 L735.3,296.5 L737.3,296.5 L739.3,296.5 L741.3,296.5 L743.3,296.5 L745.3,296.5 L747.3,296.6 L749.3,296.9 L751.3,297.4 L753.3,298.3 L755.3,299.3 L757.3,300.5 L759.3,301.7 L761.3,302.8 L763.3,303.8 L765.3,304.7 L767.3,305.5 L769.3,306.3 L771.3,307.0 L773.3,307.7 L775.3,308.5 L777.3,309.2 L779.3,310.0 L781.3,310.7 L783.3,311.5 L785.3,312.3 L787.3,313.1 L789.3,313.9 L791.3,314.8 L793.3,315.7 L795.3,316.6 L797.3,317.5 L799.3,318.4 L801.3,319.3 L803.3,320.2 L805.3,321.0 L807.3,321.9 L809.3,322.8 L811.3,323.7 L813.3,324.6 L815.3,325.5 L817.3,326.4 L819.3,327.3 L821.3,328.2 L823.3,329.1 L825.3,330.0 L827.3,330.9 L829.3,331.7 L831.3,332.5 L833.3,333.3 L835.3,334.1 L837.3,334.8 L839.3,335.5 L841.3,336.2 L843.3,336.9 L845.3,337.6 L847.3,338.2 L849.3,338.9 L851.3,339.5 L853.3,340.2 L855.3,340.9 L857.3,341.5 L859.3,342.0 L861.3,342.5 L863.3,342.9 L865.3,343.2 L867.3,343.5 L869.3,343.8 L871.3,344.1 L873.3,344.4 L875.3,344.7 L877.3,345.1 L879.3,345.4 L881.3,345.7 L883.3,346.0 L885.3,346.3 L887.3,346.6 L889.3,346.9 L891.3,347.2 L893.3,347.5 L895.3,347.9 L897.3,348.2 L899.3,348.4 L901.3,348.7 L903.3,349.0 L905.3,349.2 L907.3,349.5 L909.3,349.8 L911.3,350.1 L913.3,350.4 L915.3,350.6 L917.3,350.9 L919.3,351.1 L921.3,351.2 L923.3,351.3 L925.3,351.4 L927.3,351.5 L929.3,351.5 L931.3,351.6 L933.3,351.6 L935.3,351.7 L937.3,351.7 L939.3,351.8 L941.3,351.9 L943.3,352.1 L945.3,352.3 L947.3,352.6 L949.3,352.9 L951.3,353.2 L953.3,353.5 L955.3,353.9 L957.3,354.2 L959.3,354.5 L961.3,354.9 L963.3,355.2 L965.3,355.5 L967.3,355.9 L969.3,356.2 L971.3,356.6 L973.3,356.9 L975.3,357.2 L977.3,357.5 L979.3,357.9 L981.3,358.1 L983.3,358.3 L985.3,358.5 L987.3,358.6 L989.3,358.7 L991.3,358.8 L993.3,358.8 L995.3,358.9 L997.3,358.9 L999.3,359.0 L1001.3,359.0 L1003.3,359.0 L1005.3,359.1 L1007.3,359.1 L1009.3,359.2 L1011.3,359.2 L1013.3,359.3 L1015.3,359.3 L1017.3,359.4 L1019.3,359.4 L1021.3,359.5 L1023.3,359.6 L1025.3,359.6 L1027.3,359.7 L1029.3,359.8 L1031.3,359.9 L1033.3,360.0 L1035.3,360.1 L1037.3,360.2 L1039.3,360.4 L1041.3,360.7 L1043.3,361.0 L1045.3,361.4 L1047.3,361.8 L1049.3,362.2 L1051.3,362.6 L1053.3,363.0 L1055.3,363.3 L1057.3,363.7 L1059.3,364.1 L1061.3,364.4 L1063.3,364.6 L1065.3,364.7 L1067.3,364.8 L1069.3,364.8 L1071.3,364.8 L1073.3,364.8 L1075.3,364.8 L1077.3,364.8 L1079.3,364.8 L1081.3,364.8 L1083.3,364.8 L1085.3,364.8 L1087.3,364.9 L1089.3,364.9 L1091.3,364.9 L1093.3,365.0 L1095.3,365.0 L1097.3,365.1 L1099.3,365.2 L1101.3,365.3 L1103.3,365.4 L1105.3,365.5 L1107.3,365.6 L1109.3,365.8 L1111.3,365.9 L1113.3,366.0 L1115.3,366.2 L1117.3,366.3 L1119.3,366.4 L1121.3,366.6 L1123.3,366.7 L1125.3,366.8 L1127.3,366.9 L1129.3,367.0 L1131.3,367.1 L1133.3,367.2 L1135.3,367.2 L1137.3,367.3 L1139.3,367.4 L1141.3,367.5 L1143.3,367.7 L1145.3,367.8 L1147.3,368.0 L1149.3,368.2 L1151.3,368.4 L1153.3,368.5 L1155.3,368.7 L1157.3,368.9 L1159.3,369.1 L1161.3,369.2 L1163.3,369.4 L1165.3,369.6 L1167.3,369.8 L1169.3,370.0 L1171.3,370.2 L1173.3,370.3 L1175.3,370.5 L1177.3,370.8 L1179.3,371.0 L1181.3,371.4 L1183.3,371.8 L1185.3,372.2 L1187.3,372.7 L1189.3,373.2 L1191.3,373.6 L1193.3,374.1 L1195.3,374.6 L1197.3,375.1 L1199.3,375.6 L1201.3,376.0 L1203.3,376.5 L1205.3,377.0 L1207.3,377.5 L1209.3,378.0 L1211.3,378.5 L1213.3,379.0 L1215.3,379.5 L1217.3,380.1 L1219.3,380.7 L1221.3,381.5 L1223.3,382.3 L1225.3,383.1 L1227.3,383.9 L1229.3,384.7 L1231.3,385.5 L1233.3,386.3 L1235.3,387.1 L1237.3,387.8 L1239.3,388.6 L1241.3,389.4 L1243.3,390.1 L1245.3,390.9 L1247.3,391.6 L1249.3,392.3 L1251.3,393.1 L1253.3,393.7 L1255.3,394.4 L1257.3,395.1 L1259.3,395.7 L1261.3,396.3 L1263.3,396.9 L1265.3,397.4 L1267.3,398.0 L1269.3,398.5 L1271.3,399.1 L1273.3,399.7 L1275.3,400.2 L1277.3,400.8 L1279.3,401.3 L1281.3,401.9 L1283.3,402.4 L1285.3,403.0 L1287.3,403.6 L1289.3,404.1 L1291.3,404.7 L1293.3,405.2 L1295.3,405.7 L1297.3,406.2 L1299.3,406.6 L1301.3,407.1 L1303.3,407.5 L1305.3,407.9 L1307.3,408.4 L1309.3,408.8 L1311.3,409.3 L1313.3,409.7 L1315.3,410.1 L1317.3,410.6 L1319.3,411.0 L1321.3,411.4 L1323.3,411.9 L1325.3,412.3 L1327.3,412.8 L1329.3,413.2 L1331.3,413.7 L1333.3,414.1 L1335.3,414.5 L1336.5,414.7 L1336.5,582.6 L1335.3,582.2 L1333.3,581.6 L1331.3,580.9 L1329.3,580.0 L1327.3,579.1 L1325.3,578.2 L1323.3,577.3 L1321.3,576.3 L1319.3,575.4 L1317.3,574.5 L1315.3,573.5 L1313.3,572.6 L1311.3,571.7 L1309.3,570.7 L1307.3,569.8 L1305.3,568.9 L1303.3,568.0 L1301.3,567.0 L1299.3,566.1 L1297.3,565.1 L1295.3,564.1 L1293.3,563.0 L1291.3,561.8 L1289.3,560.7 L1287.3,559.5 L1285.3,558.3 L1283.3,557.1 L1281.3,555.9 L1279.3,554.7 L1277.3,553.5 L1275.3,552.3 L1273.3,551.1 L1271.3,549.9 L1269.3,548.7 L1267.3,547.5 L1265.3,546.3 L1263.3,545.1 L1261.3,543.9 L1259.3,542.8 L1257.3,541.6 L1255.3,540.6 L1253.3,539.5 L1251.3,538.5 L1249.3,537.5 L1247.3,536.6 L1245.3,535.6 L1243.3,534.7 L1241.3,533.8 L1239.3,533.0 L1237.3,532.2 L1235.3,531.5 L1233.3,530.8 L1231.3,530.1 L1229.3,529.4 L1227.3,528.8 L1225.3,528.1 L1223.3,527.5 L1221.3,526.8 L1219.3,526.2 L1217.3,525.7 L1215.3,525.3 L1213.3,524.9 L1211.3,524.6 L1209.3,524.2 L1207.3,523.9 L1205.3,523.5 L1203.3,523.2 L1201.3,522.8 L1199.3,522.5 L1197.3,522.1 L1195.3,521.8 L1193.3,521.4 L1191.3,521.1 L1189.3,520.7 L1187.3,520.4 L1185.3,520.0 L1183.3,519.6 L1181.3,519.3 L1179.3,519.0 L1177.3,518.6 L1175.3,518.4 L1173.3,518.1 L1171.3,517.8 L1169.3,517.5 L1167.3,517.2 L1165.3,516.9 L1163.3,516.6 L1161.3,516.3 L1159.3,516.0 L1157.3,515.7 L1155.3,515.4 L1153.3,515.1 L1151.3,514.8 L1149.3,514.5 L1147.3,514.2 L1145.3,513.9 L1143.3,513.6 L1141.3,513.3 L1139.3,513.0 L1137.3,512.7 L1135.3,512.5 L1133.3,512.3 L1131.3,512.1 L1129.3,512.0 L1127.3,511.8 L1125.3,511.7 L1123.3,511.6 L1121.3,511.5 L1119.3,511.4 L1117.3,511.3 L1115.3,511.2 L1113.3,511.1 L1111.3,511.0 L1109.3,510.9 L1107.3,510.8 L1105.3,510.7 L1103.3,510.6 L1101.3,510.5 L1099.3,510.4 L1097.3,510.3 L1095.3,510.2 L1093.3,510.1 L1091.3,510.0 L1089.3,509.9 L1087.3,509.8 L1085.3,509.7 L1083.3,509.6 L1081.3,509.4 L1079.3,509.3 L1077.3,509.1 L1075.3,509.0 L1073.3,508.9 L1071.3,508.7 L1069.3,508.6 L1067.3,508.5 L1065.3,508.3 L1063.3,508.2 L1061.3,508.1 L1059.3,507.9 L1057.3,507.8 L1055.3,507.6 L1053.3,507.5 L1051.3,507.4 L1049.3,507.3 L1047.3,507.1 L1045.3,507.0 L1043.3,506.9 L1041.3,506.8 L1039.3,506.6 L1037.3,506.5 L1035.3,506.4 L1033.3,506.3 L1031.3,506.2 L1029.3,506.1 L1027.3,506.0 L1025.3,505.8 L1023.3,505.7 L1021.3,505.6 L1019.3,505.4 L1017.3,505.3 L1015.3,505.1 L1013.3,505.0 L1011.3,504.8 L1009.3,504.7 L1007.3,504.5 L1005.3,504.4 L1003.3,504.3 L1001.3,504.1 L999.3,504.0 L997.3,503.8 L995.3,503.7 L993.3,503.5 L991.3,503.4 L989.3,503.3 L987.3,503.2 L985.3,503.1 L983.3,502.9 L981.3,502.8 L979.3,502.7 L977.3,502.5 L975.3,502.4 L973.3,502.3 L971.3,502.2 L969.3,502.0 L967.3,501.9 L965.3,501.8 L963.3,501.7 L961.3,501.6 L959.3,501.4 L957.3,501.3 L955.3,501.2 L953.3,501.1 L951.3,500.9 L949.3,500.8 L947.3,500.6 L945.3,500.5 L943.3,500.2 L941.3,500.0 L939.3,499.7 L937.3,499.4 L935.3,499.1 L933.3,498.8 L931.3,498.5 L929.3,498.2 L927.3,497.9 L925.3,497.6 L923.3,497.2 L921.3,496.9 L919.3,496.6 L917.3,496.3 L915.3,495.9 L913.3,495.6 L911.3,495.3 L909.3,495.0 L907.3,494.6 L905.3,494.3 L903.3,494.0 L901.3,493.6 L899.3,493.2 L897.3,492.7 L895.3,492.2 L893.3,491.6 L891.3,490.9 L889.3,490.2 L887.3,489.5 L885.3,488.8 L883.3,488.1 L881.3,487.4 L879.3,486.7 L877.3,486.0 L875.3,485.3 L873.3,484.6 L871.3,483.9 L869.3,483.2 L867.3,482.5 L865.3,481.8 L863.3,481.1 L861.3,480.3 L859.3,479.3 L857.3,478.3 L855.3,477.1 L853.3,475.9 L851.3,474.7 L849.3,473.5 L847.3,472.3 L845.3,471.1 L843.3,469.9 L841.3,468.7 L839.3,467.5 L837.3,466.4 L835.3,465.3 L833.3,464.3 L831.3,463.4 L829.3,462.5 L827.3,461.8 L825.3,461.0 L823.3,460.3 L821.3,459.6 L819.3,458.9 L817.3,458.2 L815.3,457.5 L813.3,456.8 L811.3,456.1 L809.3,455.4 L807.3,454.7 L805.3,454.0 L803.3,453.3 L801.3,452.6 L799.3,451.9 L797.3,451.2 L795.3,450.5 L793.3,449.8 L791.3,449.1 L789.3,448.3 L787.3,447.6 L785.3,446.9 L783.3,446.2 L781.3,445.5 L779.3,444.8 L777.3,444.0 L775.3,443.3 L773.3,442.6 L771.3,441.8 L769.3,441.1 L767.3,440.4 L765.3,439.8 L763.3,439.2 L761.3,438.7 L759.3,438.4 L757.3,438.1 L755.3,437.9 L753.3,437.8 L751.3,437.8 L749.3,437.9 L747.3,438.1 L745.3,438.3 L743.3,438.4 L741.3,438.5 L739.3,438.6 L737.3,438.7 L735.3,438.8 L733.3,438.9 L731.3,438.9 L729.3,439.0 L727.3,439.1 L725.3,439.2 L723.3,439.3 L721.3,439.4 L719.3,439.5 L717.3,439.6 L715.3,439.8 L713.3,440.0 L711.3,440.3 L709.3,440.9 L707.3,441.8 L705.3,442.9 L703.3,444.3 L701.3,445.7 L699.3,447.1 L697.3,448.6 L695.3,450.1 L693.3,451.5 L691.3,452.8 L689.3,454.1 L687.3,455.3 L685.3,456.4 L683.3,457.5 L681.3,458.6 L679.3,459.6 L677.3,460.7 L675.3,461.8 L673.3,462.9 L671.3,464.1 L669.3,465.5 L667.3,467.3 L665.3,469.6 L663.3,472.2 L661.3,474.9 L659.3,477.7 L657.3,480.3 L655.3,482.8 L653.3,485.1 L651.3,487.2 L649.3,489.2 L647.3,491.2 L645.3,493.1 L643.3,495.0 L641.3,496.9 L639.3,498.8 L637.3,500.7 L635.3,502.7 L633.3,504.6 L631.3,506.6 L629.3,508.5 L627.3,510.4 L625.3,512.3 L623.3,514.2 L621.3,516.3 L619.3,518.5 L617.3,520.8 L615.3,523.4 L613.3,526.0 L611.3,528.8 L609.3,531.7 L607.3,534.5 L605.3,537.1 L603.3,539.6 L601.3,541.9 L599.3,544.3 L597.3,546.7 L595.3,549.2 L593.3,551.8 L591.3,554.5 L589.3,557.1 L587.3,559.8 L585.3,562.5 L583.3,565.2 L581.3,567.8 L579.3,570.3 L577.3,572.7 L575.3,574.8 L573.3,576.9 L571.3,578.9 L569.3,580.8 L567.3,582.5 L565.3,584.3 L563.3,586.1 L561.3,587.9 L559.3,589.6 L557.3,591.4 L555.3,593.2 L553.3,595.1 L551.3,596.7 L549.3,598.0 L547.3,599.5 L545.3,601.0 L543.3,602.6 L541.3,604.1 L539.3,605.6 L537.3,607.1 L535.3,608.4 L533.3,609.7 L531.3,610.9 L529.3,612.4 L527.3,613.8 L525.3,615.2 L523.3,616.6 L521.3,617.9 L519.3,619.2 L517.3,620.4 L515.3,621.7 L513.3,623.0 L511.3,623.4 L509.3,623.6 L507.3,623.8 L505.3,624.2 L503.3,624.5 L501.3,624.9 L499.3,625.3 L497.3,625.7 L495.3,626.0 L493.3,626.4 L491.3,626.7 L489.3,626.9 L487.3,627.0 L485.3,627.1 L483.3,627.0 L481.3,626.8 L479.3,626.7 L477.3,626.5 L475.3,626.4 L473.3,626.3 L471.3,626.2 L469.3,626.1 L467.3,625.9 L465.3,625.8 L463.3,625.6 L461.3,625.4 L459.3,625.1 L457.3,624.8 L455.3,624.4 L453.3,623.9 L451.3,623.4 L449.3,623.0 L447.3,622.5 L445.3,622.0 L443.3,621.6 L441.3,621.1 L439.3,620.6 L437.3,620.2 L435.3,619.7 L433.3,619.2 L431.3,618.7 L429.3,618.2 L427.3,617.7 L425.3,617.1 L423.3,616.6 L421.3,616.0 L419.3,615.4 L417.3,614.9 L415.3,614.3 L413.3,613.7 L411.3,613.0 L409.3,612.3 L407.3,611.6 L405.3,610.8 L403.3,610.0 L401.3,609.2 L399.3,608.5 L397.3,607.8 L395.3,607.2 L393.3,606.6 L391.3,606.0 L389.3,605.4 L387.3,604.8 L385.3,604.2 L383.3,603.7 L381.3,603.1 L379.3,602.5 L377.3,601.9 L375.3,601.3 L373.3,600.6 L371.3,600.0 L369.3,599.3 L367.3,598.7 L365.3,598.2 L363.3,597.6 L361.3,597.1 L359.3,596.5 L357.3,595.9 L355.3,595.3 L353.3,594.7 L351.3,594.1 L349.3,593.6 L347.3,593.0 L345.3,592.4 L343.3,591.8 L341.3,591.1 L339.3,590.5 L337.3,589.9 L335.3,589.3 L333.3,588.8 L331.3,588.2 L329.3,587.6 L327.3,587.0 L325.3,586.4 L323.3,585.8 L321.3,585.2 L319.3,584.6 L317.3,584.0 L315.3,583.4 L313.3,582.9 L311.3,582.3 L309.3,581.7 L307.3,581.1 L305.3,580.6 L303.3,580.0 L301.3,579.5 L299.3,579.0 L297.3,578.5 L295.3,577.9 L293.3,577.4 L291.3,576.8 L289.3,576.3 L287.3,575.7 L285.3,575.2 L283.3,574.6 L281.3,574.1 L279.3,573.6 L277.3,573.1 L275.3,572.6 L273.3,572.2 L271.3,571.9 L269.3,571.6 L267.3,571.4 L265.3,571.2 L263.3,571.0 L261.3,570.8 L259.3,570.6 L257.3,570.4 L255.3,570.2 L253.3,570.0 L251.3,569.7 L249.3,569.5 L247.3,569.3 L245.3,569.1 L243.3,568.9 L241.3,568.7 L239.3,568.6 L237.3,568.4 L235.3,568.2 L233.3,568.0 L231.3,567.9 L229.3,567.8 L227.3,567.7 L225.3,567.6 L223.3,567.6 L221.3,567.5 L219.3,567.4 L217.3,567.4 L215.3,567.3 L213.3,567.3 L211.3,567.2 L209.3,567.2 L207.3,567.1 L205.3,567.0 L203.3,567.0 L201.3,566.9 L199.3,566.8 L197.3,566.8 Z" fill="#CD853F" fill-opacity="0.25"/>
<path d="M197.3,441.8 L199.3,441.9 L201.3,442.1 L203.3,442.3 L205.3,442.6 L207.3,442.8 L209.3,443.0 L211.3,443.3 L213.3,443.5 L215.3,443.7 L217.3,444.0 L219.3,444.2 L221.3,444.4 L223.3,444.6 L225.3,444.9 L227.3,445.1 L229.3,445.3 L231.3,445.6 L233.3,445.8 L235.3,446.0 L237.3,446.3 L239.3,446.5 L241.3,446.7 L243.3,447.0 L245.3,447.2 L247.3,447.4 L249.3,447.7 L251.3,447.9 L253.3,448.1 L255.3,448.3 L257.3,448.5 L259.3,448.6 L261.3,448.7 L263.3,448.7 L265.3,448.8 L267.3,448.8 L269.3,448.8 L271.3,448.9 L273.3,448.9 L275.3,449.0 L277.3,449.0 L279.3,449.1 L281.3,449.1 L283.3,449.1 L285.3,449.2 L287.3,449.2 L289.3,449.3 L291.3,449.3 L293.3,449.3 L295.3,449.4 L297.3,449.4 L299.3,449.5 L301.3,449.5 L303.3,449.5 L305.3,449.6 L307.3,449.6 L309.3,449.7 L311.3,449.7 L313.3,449.8 L315.3,450.0 L317.3,450.2 L319.3,450.5 L321.3,450.8 L323.3,451.1 L325.3,451.5 L327.3,451.8 L329.3,452.2 L331.3,452.5 L333.3,452.8 L335.3,453.2 L337.3,453.5 L339.3,453.8 L341.3,454.0 L343.3,454.2 L345.3,454.4 L347.3,454.5 L349.3,454.7 L351.3,455.0 L353.3,455.4 L355.3,456.0 L357.3,456.8 L359.3,457.8 L361.3,458.7 L363.3,459.7 L365.3,460.7 L367.3,461.7 L369.3,462.7 L371.3,463.7 L373.3,464.7 L375.3,465.7 L377.3,466.7 L379.3,467.7 L381.3,468.7 L383.3,469.7 L385.3,470.7 L387.3,471.7 L389.3,472.7 L391.3,473.7 L393.3,474.7 L395.3,475.7 L397.3,476.8 L399.3,477.9 L401.3,479.2 L403.3,480.5 L405.3,481.9 L407.3,483.3 L409.3,484.7 L411.3,486.0 L413.3,487.4 L415.3,488.8 L417.3,490.3 L419.3,491.7 L421.3,493.2 L423.3,494.8 L425.3,496.3 L427.3,497.9 L429.3,499.5 L431.3,501.1 L433.3,502.7 L435.3,504.3 L437.3,505.9 L439.3,507.5 L441.3,509.1 L443.3,510.7 L445.3,512.3 L447.3,513.8 L449.3,515.2 L451.3,516.5 L453.3,517.8 L455.3,519.1 L457.3,520.4 L459.3,521.7 L461.3,523.0 L463.3,524.2 L465.3,525.5 L467.3,526.8 L469.3,527.9 L471.3,529.0 L473.3,529.8 L475.3,530.5 L477.3,531.1 L479.3,531.7 L481.3,532.3 L483.3,532.9 L485.3,533.5 L487.3,534.1 L489.3,534.7 L491.3,535.4 L493.3,536.0 L495.3,536.6 L497.3,537.2 L499.3,537.8 L501.3,538.4 L503.3,539.0 L505.3,539.6 L507.3,540.2 L509.3,540.3 L511.3,540.0 L513.3,539.6 L515.3,538.6 L517.3,537.2 L519.3,535.7 L521.3,534.3 L523.3,533.1 L525.3,532.1 L527.3,531.2 L529.3,530.2 L531.3,529.3 L533.3,528.3 L535.3,527.4 L537.3,526.4 L539.3,525.5 L541.3,524.5 L543.3,523.5 L545.3,522.3 L547.3,521.0 L549.3,519.8 L551.3,518.5 L553.3,516.4 L555.3,513.5 L557.3,510.6 L559.3,507.7 L561.3,504.7 L563.3,501.8 L565.3,498.9 L567.3,496.0 L569.3,493.1 L571.3,490.5 L573.3,487.9 L575.3,485.4 L577.3,482.9 L579.3,480.4 L581.3,477.9 L583.3,475.4 L585.3,472.9 L587.3,470.4 L589.3,467.9 L591.3,465.2 L593.3,462.4 L595.3,459.3 L597.3,456.1 L599.3,452.8 L601.3,449.5 L603.3,446.2 L605.3,442.9 L607.3,439.6 L609.3,436.3 L611.3,433.0 L613.3,429.8 L615.3,426.6 L617.3,423.3 L619.3,420.1 L621.3,416.8 L623.3,413.5 L625.3,410.1 L627.3,406.7 L629.3,403.4 L631.3,400.0 L633.3,396.6 L635.3,393.2 L637.3,389.8 L639.3,386.5 L641.3,383.2 L643.3,380.0 L645.3,376.8 L647.3,373.7 L649.3,370.5 L651.3,367.4 L653.3,364.2 L655.3,361.1 L657.3,357.9 L659.3,354.9 L661.3,352.0 L663.3,349.4 L665.3,347.0 L667.3,344.9 L669.3,342.8 L671.3,340.8 L673.3,338.9 L675.3,336.9 L677.3,335.0 L679.3,333.2 L681.3,331.5 L683.3,329.9 L685.3,328.4 L687.3,326.9 L689.3,325.5 L691.3,324.1 L693.3,322.7 L695.3,321.3 L697.3,319.9 L699.3,318.5 L701.3,317.2 L703.3,316.2 L705.3,315.6 L707.3,315.3 L709.3,315.1 L711.3,315.1 L713.3,315.1 L715.3,315.1 L717.3,315.1 L719.3,315.1 L721.3,315.2 L723.3,315.2 L725.3,315.4 L727.3,315.5 L729.3,315.7 L731.3,315.9 L733.3,316.1 L735.3,316.3 L737.3,316.5 L739.3,316.7 L741.3,317.0 L743.3,317.3 L745.3,317.8 L747.3,318.6 L749.3,319.6 L751.3,320.8 L753.3,322.0 L755.3,323.2 L757.3,324.5 L759.3,325.7 L761.3,327.0 L763.3,328.2 L765.3,329.5 L767.3,330.8 L769.3,332.0 L771.3,333.3 L773.3,334.5 L775.3,335.8 L777.3,337.0 L779.3,338.3 L781.3,339.5 L783.3,340.8 L785.3,342.1 L787.3,343.5 L789.3,345.0 L791.3,346.5 L793.3,348.0 L795.3,349.5 L797.3,351.1 L799.3,352.6 L801.3,354.1 L803.3,355.6 L805.3,357.2 L807.3,358.7 L809.3,360.2 L811.3,361.8 L813.3,363.3 L815.3,364.8 L817.3,366.3 L819.3,367.9 L821.3,369.4 L823.3,370.9 L825.3,372.2 L827.3,373.5 L829.3,374.6 L831.3,375.6 L833.3,376.6 L835.3,377.6 L837.3,378.6 L839.3,379.6 L841.3,380.7 L843.3,381.6 L845.3,382.6 L847.3,383.6 L849.3,384.6 L851.3,385.6 L853.3,386.6 L855.3,387.6 L857.3,388.6 L859.3,389.4 L861.3,390.0 L863.3,390.3 L865.3,390.5 L867.3,390.5 L869.3,390.5 L871.3,390.5 L873.3,390.5 L875.3,390.5 L877.3,390.5 L879.3,390.5 L881.3,390.5 L883.3,390.5 L885.3,390.5 L887.3,390.5 L889.3,390.5 L891.3,390.5 L893.3,390.5 L895.3,390.5 L897.3,390.5 L899.3,390.5 L901.3,390.5 L903.3,390.5 L905.3,390.5 L907.3,390.4 L909.3,390.1 L911.3,389.6 L913.3,388.9 L915.3,388.2 L917.3,387.3 L919.3,386.5 L921.3,385.6 L923.3,384.8 L925.3,383.9 L927.3,383.1 L929.3,382.2 L931.3,381.4 L933.3,380.5 L935.3,379.7 L937.3,378.8 L939.3,378.0 L941.3,377.1 L943.3,376.2 L945.3,375.3 L947.3,374.4 L949.3,373.5 L951.3,372.6 L953.3,371.7 L955.3,370.8 L957.3,369.9 L959.3,369.0 L961.3,368.1 L963.3,367.2 L965.3,366.3 L967.3,365.4 L969.3,364.5 L971.3,363.6 L973.3,362.7 L975.3,361.8 L977.3,360.9 L979.3,360.0 L981.3,359.1 L983.3,358.2 L985.3,357.3 L987.3,356.4 L989.3,355.5 L991.3,354.6 L993.3,353.7 L995.3,352.7 L997.3,351.8 L999.3,350.9 L1001.3,350.0 L1003.3,349.0 L1005.3,348.1 L1007.3,347.2 L1009.3,346.2 L1011.3,345.3 L1013.3,344.4 L1015.3,343.5 L1017.3,342.5 L1019.3,341.6 L1021.3,340.7 L1023.3,339.9 L1025.3,339.1 L1027.3,338.5 L1029.3,338.0 L1031.3,337.4 L1033.3,336.9 L1035.3,336.4 L1037.3,335.9 L1039.3,335.4 L1041.3,334.9 L1043.3,334.4 L1045.3,333.9 L1047.3,333.4 L1049.3,332.9 L1051.3,332.4 L1053.3,331.9 L1055.3,331.4 L1057.3,330.9 L1059.3,330.4 L1061.3,329.9 L1063.3,329.4 L1065.3,329.0 L1067.3,328.6 L1069.3,328.4 L1071.3,328.1 L1073.3,327.9 L1075.3,327.7 L1077.3,327.5 L1079.3,327.3 L1081.3,327.1 L1083.3,326.9 L1085.3,326.7 L1087.3,326.5 L1089.3,326.3 L1091.3,326.1 L1093.3,325.9 L1095.3,325.7 L1097.3,325.5 L1099.3,325.3 L1101.3,325.2 L1103.3,325.1 L1105.3,325.1 L1107.3,325.1 L1109.3,325.1 L1111.3,325.1 L1113.3,325.1 L1115.3,325.1 L1117.3,325.1 L1119.3,325.1 L1121.3,325.0 L1123.3,325.0 L1125.3,325.0 L1127.3,325.0 L1129.3,325.0 L1131.3,325.0 L1133.3,325.0 L1135.3,325.1 L1137.3,325.3 L1139.3,325.7 L1141.3,326.2 L1143.3,326.8 L1145.3,327.4 L1147.3,328.1 L1149.3,328.7 L1151.3,329.3 L1153.3,330.0 L1155.3,330.6 L1157.3,331.3 L1159.3,331.9 L1161.3,332.6 L1163.3,333.2 L1165.3,333.9 L1167.3,334.5 L1169.3,335.1 L1171.3,335.8 L1173.3,336.4 L1175.3,337.1 L1177.3,337.9 L1179.3,338.9 L1181.3,339.9 L1183.3,341.1 L1185.3,342.3 L1187.3,343.6 L1189.3,344.8 L1191.3,346.1 L1193.3,347.3 L1195.3,348.5 L1197.3,349.8 L1199.3,351.0 L1201.3,352.3 L1203.3,353.5 L1205.3,354.8 L1207.3,356.0 L1209.3,357.2 L1211.3,358.5 L1213.3,359.8 L1215.3,361.2 L1217.3,362.7 L1219.3,364.3 L1221.3,366.0 L1223.3,367.7 L1225.3,369.4 L1227.3,371.2 L1229.3,372.9 L1231.3,374.6 L1233.3,376.3 L1235.3,378.1 L1237.3,379.9 L1239.3,381.7 L1241.3,383.6 L1243.3,385.5 L1245.3,387.5 L1247.3,389.5 L1249.3,391.5 L1251.3,393.5 L1253.3,395.5 L1255.3,397.5 L1257.3,399.5 L1259.3,401.5 L1261.3,403.5 L1263.3,405.5 L1265.3,407.6 L1267.3,409.7 L1269.3,412.0 L1271.3,414.4 L1273.3,416.9 L1275.3,419.4 L1277.3,422.0 L1279.3,424.5 L1281.3,427.1 L1283.3,429.7 L1285.3,432.2 L1287.3,434.7 L1289.3,437.0 L1291.3,439.2 L1293.3,441.3 L1295.3,443.3 L1297.3,445.3 L1299.3,447.3 L1301.3,449.3 L1303.3,451.3 L1305.3,453.3 L1307.3,455.3 L1309.3,457.3 L1311.3,459.3 L1313.3,461.3 L1315.3,463.2 L1317.3,465.1 L1319.3,467.0 L1321.3,468.9 L1323.3,470.7 L1325.3,472.6 L1327.3,474.5 L1329.3,476.3 L1331.3,478.1 L1333.3,479.8 L1335.3,481.3 L1336.5,482.2" fill="none" stroke="#550F85" stroke-width="2.5" stroke-linejoin="round"/>
<path d="M197.3,273.9 L199.3,274.9 L201.3,276.2 L203.3,277.7 L205.3,279.3 L207.3,280.8 L209.3,282.4 L211.3,283.9 L213.3,285.5 L215.3,287.0 L217.3,288.6 L219.3,290.1 L221.3,291.7 L223.3,293.2 L225.3,294.8 L227.3,296.3 L229.3,297.8 L231.3,299.3 L233.3,300.7 L235.3,301.9 L237.3,303.2 L239.3,304.4 L241.3,305.6 L243.3,306.8 L245.3,307.9 L247.3,309.1 L249.3,310.3 L251.3,311.5 L253.3,312.7 L255.3,313.9 L257.3,315.1 L259.3,316.3 L261.3,317.5 L263.3,318.7 L265.3,319.9 L267.3,321.1 L269.3,322.3 L271.3,323.4 L273.3,324.5 L275.3,325.5 L277.3,326.4 L279.3,327.1 L281.3,327.8 L283.3,328.5 L285.3,329.2 L287.3,329.8 L289.3,330.5 L291.3,331.2 L293.3,331.9 L295.3,332.5 L297.3,333.2 L299.3,333.9 L301.3,334.5 L303.3,335.2 L305.3,335.9 L307.3,336.6 L309.3,337.2 L311.3,337.9 L313.3,338.6 L315.3,339.3 L317.3,339.9 L319.3,340.6 L321.3,341.3 L323.3,342.0 L325.3,342.6 L327.3,343.3 L329.3,344.0 L331.3,344.7 L333.3,345.4 L335.3,346.0 L337.3,346.7 L339.3,347.4 L341.3,348.1 L343.3,348.8 L345.3,349.6 L347.3,350.5 L349.3,351.5 L351.3,352.6 L353.3,353.8 L355.3,355.0 L357.3,356.2 L359.3,357.4 L361.3,358.6 L363.3,359.8 L365.3,361.0 L367.3,362.2 L369.3,363.4 L371.3,364.6 L373.3,365.8 L375.3,367.0 L377.3,368.1 L379.3,369.3 L381.3,370.4 L383.3,371.4 L385.3,372.5 L387.3,373.5 L389.3,374.7 L391.3,376.2 L393.3,378.1 L395.3,380.2 L397.3,382.6 L399.3,385.0 L401.3,387.3 L403.3,389.5 L405.3,391.6 L407.3,393.6 L409.3,395.5 L411.3,397.5 L413.3,399.7 L415.3,401.9 L417.3,404.4 L419.3,406.9 L421.3,409.4 L423.3,411.9 L425.3,414.3 L427.3,416.6 L429.3,418.9 L431.3,421.3 L433.3,423.7 L435.3,426.2 L437.3,428.8 L439.3,431.6 L441.3,434.4 L443.3,437.3 L445.3,440.2 L447.3,443.2 L449.3,446.1 L451.3,449.0 L453.3,451.9 L455.3,454.8 L457.3,457.8 L459.3,460.7 L461.3,463.6 L463.3,466.5 L465.3,469.5 L467.3,472.4 L469.3,475.2 L471.3,477.9 L473.3,480.5 L475.3,482.8 L477.3,484.9 L479.3,486.9 L481.3,489.0 L483.3,491.0 L485.3,493.1 L487.3,495.1 L489.3,497.2 L491.3,499.2 L493.3,501.3 L495.3,503.3 L497.3,505.4 L499.3,507.5 L501.3,509.5 L503.3,511.6 L505.3,513.7 L507.3,515.7 L509.3,517.8 L511.3,519.9 L513.3,521.5 L515.3,521.9 L517.3,522.4 L519.3,522.8 L521.3,523.3 L523.3,523.7 L525.3,524.1 L527.3,524.5 L529.3,524.9 L531.3,525.4 L533.3,525.8 L535.3,526.2 L537.3,526.6 L539.3,527.0 L541.3,527.4 L543.3,527.8 L545.3,527.6 L547.3,527.4 L549.3,527.2 L551.3,527.1 L553.3,525.9 L555.3,524.2 L557.3,522.6 L559.3,520.9 L561.3,519.2 L563.3,517.6 L565.3,515.9 L567.3,514.2 L569.3,512.5 L571.3,510.4 L573.3,508.1 L575.3,505.8 L577.3,503.4 L579.3,501.1 L581.3,498.7 L583.3,496.4 L585.3,494.0 L587.3,491.7 L589.3,489.2 L591.3,486.5 L593.3,483.4 L595.3,479.7 L597.3,475.7 L599.3,471.5 L601.3,467.2 L603.3,463.0 L605.3,458.7 L607.3,454.4 L609.3,450.1 L611.3,445.8 L613.3,441.6 L615.3,437.3 L617.3,433.0 L619.3,428.7 L621.3,424.4 L623.3,420.1 L625.3,415.9 L627.3,411.6 L629.3,407.3 L631.3,403.0 L633.3,398.7 L635.3,394.5 L637.3,390.2 L639.3,385.9 L641.3,381.6 L643.3,377.3 L645.3,373.1 L647.3,368.8 L649.3,364.6 L651.3,360.4 L653.3,356.3 L655.3,352.2 L657.3,348.1 L659.3,344.0 L661.3,339.9 L663.3,335.9 L665.3,331.8 L667.3,327.7 L669.3,323.6 L671.3,319.5 L673.3,315.5 L675.3,311.4 L677.3,307.3 L679.3,303.2 L681.3,299.1 L683.3,295.0 L685.3,291.0 L687.3,286.9 L689.3,282.8 L691.3,278.7 L693.3,274.6 L695.3,270.6 L697.3,266.5 L699.3,262.4 L701.3,258.4 L703.3,254.5 L705.3,250.9 L707.3,247.8 L709.3,245.2 L711.3,242.9 L713.3,240.8 L715.3,238.7 L717.3,236.6 L719.3,234.5 L721.3,232.3 L723.3,230.1 L725.3,227.9 L727.3,225.7 L729.3,223.5 L731.3,221.3 L733.3,219.1 L735.3,216.9 L737.3,214.6 L739.3,212.3 L741.3,209.9 L743.3,207.5 L745.3,205.3 L747.3,203.3 L749.3,201.7 L751.3,200.6 L753.3,199.8 L755.3,199.1 L757.3,198.5 L759.3,197.9 L761.3,197.2 L763.3,196.5 L765.3,195.8 L767.3,195.1 L769.3,194.4 L771.3,193.7 L773.3,193.0 L775.3,192.3 L777.3,191.6 L779.3,190.9 L781.3,190.3 L783.3,189.7 L785.3,189.2 L787.3,189.0 L789.3,189.1 L791.3,189.4 L793.3,189.8 L795.3,190.2 L797.3,190.6 L799.3,191.1 L801.3,191.6 L803.3,192.1 L805.3,192.6 L807.3,193.2 L809.3,193.7 L811.3,194.2 L813.3,194.8 L815.3,195.3 L817.3,195.8 L819.3,196.4 L821.3,196.9 L823.3,197.4 L825.3,198.0 L827.3,198.5 L829.3,199.0 L831.3,199.6 L833.3,200.2 L835.3,200.8 L837.3,201.4 L839.3,202.1 L841.3,202.8 L843.3,203.4 L845.3,204.1 L847.3,204.8 L849.3,205.4 L851.3,206.1 L853.3,206.8 L855.3,207.4 L857.3,208.1 L859.3,208.8 L861.3,209.4 L863.3,210.1 L865.3,210.8 L867.3,211.4 L869.3,212.1 L871.3,212.8 L873.3,213.5 L875.3,214.1 L877.3,214.8 L879.3,215.5 L881.3,216.1 L883.3,216.8 L885.3,217.5 L887.3,218.1 L889.3,218.8 L891.3,219.5 L893.3,220.1 L895.3,220.8 L897.3,221.5 L899.3,222.1 L901.3,222.7 L903.3,223.3 L905.3,223.8 L907.3,224.2 L909.3,224.7 L911.3,225.1 L913.3,225.5 L915.3,225.9 L917.3,226.3 L919.3,226.8 L921.3,227.2 L923.3,227.6 L925.3,228.0 L927.3,228.3 L929.3,228.6 L931.3,228.7 L933.3,228.8 L935.3,228.8 L937.3,228.8 L939.3,228.8 L941.3,228.8 L943.3,228.8 L945.3,228.8 L947.3,228.8 L949.3,228.8 L951.3,228.8 L953.3,228.8 L955.3,228.8 L957.3,228.8 L959.3,228.8 L961.3,228.8 L963.3,228.8 L965.3,228.8 L967.3,228.8 L969.3,228.8 L971.3,228.8 L973.3,228.8 L975.3,228.8 L977.3,228.8 L979.3,228.8 L981.3,228.8 L983.3,228.8 L985.3,228.8 L987.3,228.8 L989.3,228.8 L991.3,228.8 L993.3,228.8 L995.3,228.7 L997.3,228.6 L999.3,228.4 L1001.3,228.1 L1003.3,227.8 L1005.3,227.5 L1007.3,227.2 L1009.3,226.9 L1011.3,226.6 L1013.3,226.3 L1015.3,226.0 L1017.3,225.6 L1019.3,225.2 L1021.3,224.6 L1023.3,223.9 L1025.3,223.1 L1027.3,222.3 L1029.3,221.5 L1031.3,220.7 L1033.3,219.8 L1035.3,219.0 L1037.3,218.2 L1039.3,217.4 L1041.3,216.6 L1043.3,215.7 L1045.3,214.9 L1047.3,214.1 L1049.3,213.3 L1051.3,212.5 L1053.3,211.6 L1055.3,210.8 L1057.3,210.0 L1059.3,209.1 L1061.3,208.2 L1063.3,207.2 L1065.3,206.2 L1067.3,205.2 L1069.3,204.2 L1071.3,203.2 L1073.3,202.2 L1075.3,201.2 L1077.3,200.2 L1079.3,199.2 L1081.3,198.1 L1083.3,197.0 L1085.3,195.9 L1087.3,194.8 L1089.3,193.7 L1091.3,192.6 L1093.3,191.4 L1095.3,190.3 L1097.3,189.2 L1099.3,188.1 L1101.3,187.1 L1103.3,186.1 L1105.3,185.1 L1107.3,184.1 L1109.3,183.1 L1111.3,182.1 L1113.3,181.1 L1115.3,180.1 L1117.3,179.1 L1119.3,178.1 L1121.3,177.1 L1123.3,176.1 L1125.3,175.1 L1127.3,174.1 L1129.3,173.1 L1131.3,172.2 L1133.3,171.2 L1135.3,170.2 L1137.3,169.3 L1139.3,168.4 L1141.3,167.6 L1143.3,167.1 L1145.3,166.6 L1147.3,166.2 L1149.3,165.8 L1151.3,165.4 L1153.3,165.0 L1155.3,164.6 L1157.3,164.2 L1159.3,163.8 L1161.3,163.4 L1163.3,163.1 L1165.3,162.7 L1167.3,162.3 L1169.3,161.9 L1171.3,161.5 L1173.3,161.1 L1175.3,160.8 L1177.3,160.7 L1179.3,160.8 L1181.3,161.2 L1183.3,161.8 L1185.3,162.5 L1187.3,163.2 L1189.3,163.9 L1191.3,164.6 L1193.3,165.3 L1195.3,166.0 L1197.3,166.7 L1199.3,167.4 L1201.3,168.1 L1203.3,168.8 L1205.3,169.5 L1207.3,170.2 L1209.3,170.9 L1211.3,171.6 L1213.3,172.4 L1215.3,173.3 L1217.3,174.5 L1219.3,175.9 L1221.3,177.4 L1223.3,179.0 L1225.3,180.5 L1227.3,182.1 L1229.3,183.7 L1231.3,185.3 L1233.3,186.8 L1235.3,188.4 L1237.3,190.0 L1239.3,191.6 L1241.3,193.2 L1243.3,194.7 L1245.3,196.3 L1247.3,197.9 L1249.3,199.6 L1251.3,201.4 L1253.3,203.4 L1255.3,205.5 L1257.3,207.6 L1259.3,209.8 L1261.3,211.9 L1263.3,214.1 L1265.3,216.2 L1267.3,218.4 L1269.3,220.6 L1271.3,222.7 L1273.3,224.9 L1275.3,227.0 L1277.3,229.2 L1279.3,231.4 L1281.3,233.5 L1283.3,235.7 L1285.3,237.9 L1287.3,240.1 L1289.3,242.3 L1291.3,244.6 L1293.3,246.8 L1295.3,249.0 L1297.3,251.3 L1299.3,253.5 L1301.3,255.8 L1303.3,258.0 L1305.3,260.2 L1307.3,262.5 L1309.3,264.6 L1311.3,266.8 L1313.3,268.9 L1315.3,271.0 L1317.3,273.1 L1319.3,275.2 L1321.3,277.3 L1323.3,279.4 L1325.3,281.5 L1327.3,283.6 L1329.3,285.7 L1331.3,287.7 L1333.3,289.7 L1335.3,291.3 L1336.5,292.4" fill="none" stroke="#7F4517" stroke-width="2.5" stroke-linejoin="round"/>
<path d="M197.3,493.6 L199.3,493.7 L201.3,493.9 L203.3,494.1 L205.3,494.2 L207.3,494.4 L209.3,494.6 L211.3,494.8 L213.3,494.9 L215.3,495.1 L217.3,495.3 L219.3,495.5 L221.3,495.7 L223.3,495.8 L225.3,496.0 L227.3,496.2 L229.3,496.4 L231.3,496.5 L233.3,496.7 L235.3,496.9 L237.3,497.0 L239.3,497.2 L241.3,497.3 L243.3,497.5 L245.3,497.6 L247.3,497.8 L249.3,497.9 L251.3,498.1 L253.3,498.2 L255.3,498.4 L257.3,498.5 L259.3,498.7 L261.3,498.8 L263.3,499.0 L265.3,499.2 L267.3,499.3 L269.3,499.5 L271.3,499.6 L273.3,499.8 L275.3,500.0 L277.3,500.3 L279.3,500.5 L281.3,500.8 L283.3,501.0 L285.3,501.3 L287.3,501.5 L289.3,501.8 L291.3,502.0 L293.3,502.3 L295.3,502.5 L297.3,502.8 L299.3,503.0 L301.3,503.3 L303.3,503.6 L305.3,503.9 L307.3,504.2 L309.3,504.7 L311.3,505.2 L313.3,505.8 L315.3,506.3 L317.3,506.9 L319.3,507.5 L321.3,508.0 L323.3,508.6 L325.3,509.1 L327.3,509.7 L329.3,510.3 L331.3,510.8 L333.3,511.4 L335.3,512.0 L337.3,512.6 L339.3,513.2 L341.3,513.9 L343.3,514.6 L345.3,515.2 L347.3,515.9 L349.3,516.6 L351.3,517.2 L353.3,517.9 L355.3,518.6 L357.3,519.2 L359.3,519.9 L361.3,520.6 L363.3,521.2 L365.3,522.0 L367.3,522.8 L369.3,523.6 L371.3,524.6 L373.3,525.7 L375.3,526.7 L377.3,527.8 L379.3,528.8 L381.3,529.7 L383.3,530.6 L385.3,531.4 L387.3,532.2 L389.3,533.0 L391.3,533.9 L393.3,534.7 L395.3,535.5 L397.3,536.4 L399.3,537.2 L401.3,538.0 L403.3,538.8 L405.3,539.7 L407.3,540.5 L409.3,541.2 L411.3,542.0 L413.3,542.7 L415.3,543.4 L417.3,544.0 L419.3,544.7 L421.3,545.4 L423.3,546.1 L425.3,546.7 L427.3,547.4 L429.3,548.1 L431.3,548.7 L433.3,549.4 L435.3,550.0 L437.3,550.7 L439.3,551.4 L441.3,552.0 L443.3,552.7 L445.3,553.3 L447.3,554.0 L449.3,554.6 L451.3,555.3 L453.3,555.9 L455.3,556.6 L457.3,557.2 L459.3,557.7 L461.3,558.1 L463.3,558.4 L465.3,558.7 L467.3,559.0 L469.3,559.2 L471.3,559.3 L473.3,559.4 L475.3,559.4 L477.3,559.3 L479.3,559.2 L481.3,559.2 L483.3,559.1 L485.3,559.0 L487.3,558.8 L489.3,558.5 L491.3,558.2 L493.3,557.9 L495.3,557.6 L497.3,557.3 L499.3,557.0 L501.3,556.7 L503.3,556.5 L505.3,556.2 L507.3,555.9 L509.3,555.6 L511.3,555.3 L513.3,554.6 L515.3,553.0 L517.3,551.4 L519.3,549.8 L521.3,548.2 L523.3,546.5 L525.3,544.9 L527.3,543.3 L529.3,541.7 L531.3,540.1 L533.3,538.9 L535.3,537.8 L537.3,536.6 L539.3,535.5 L541.3,534.3 L543.3,533.2 L545.3,532.0 L547.3,530.9 L549.3,529.7 L551.3,528.6 L553.3,527.0 L555.3,524.9 L557.3,522.8 L559.3,520.7 L561.3,518.6 L563.3,516.6 L565.3,514.5 L567.3,512.4 L569.3,510.3 L571.3,508.0 L573.3,505.7 L575.3,503.4 L577.3,501.1 L579.3,498.8 L581.3,496.5 L583.3,494.2 L585.3,491.9 L587.3,489.6 L589.3,487.2 L591.3,484.8 L593.3,482.2 L595.3,479.5 L597.3,476.6 L599.3,473.7 L601.3,470.8 L603.3,467.8 L605.3,464.9 L607.3,462.0 L609.3,459.1 L611.3,456.5 L613.3,454.1 L615.3,451.9 L617.3,449.9 L619.3,447.9 L621.3,446.0 L623.3,444.0 L625.3,442.1 L627.3,440.1 L629.3,438.0 L631.3,435.8 L633.3,433.5 L635.3,431.2 L637.3,428.8 L639.3,426.4 L641.3,424.0 L643.3,421.7 L645.3,419.3 L647.3,416.9 L649.3,414.5 L651.3,412.2 L653.3,409.8 L655.3,407.4 L657.3,405.0 L659.3,402.7 L661.3,400.3 L663.3,398.0 L665.3,395.9 L667.3,394.0 L669.3,392.5 L671.3,391.2 L673.3,390.0 L675.3,388.9 L677.3,387.8 L679.3,386.6 L681.3,385.5 L683.3,384.4 L685.3,383.3 L687.3,382.2 L689.3,381.1 L691.3,380.0 L693.3,378.8 L695.3,377.7 L697.3,376.6 L699.3,375.5 L701.3,374.4 L703.3,373.3 L705.3,372.2 L707.3,371.3 L709.3,370.6 L711.3,370.0 L713.3,369.7 L715.3,369.4 L717.3,369.1 L719.3,368.9 L721.3,368.7 L723.3,368.4 L725.3,368.2 L727.3,368.0 L729.3,367.9 L731.3,367.8 L733.3,367.7 L735.3,367.7 L737.3,367.6 L739.3,367.6 L741.3,367.5 L743.3,367.4 L745.3,367.4 L747.3,367.4 L749.3,367.4 L751.3,367.6 L753.3,368.0 L755.3,368.6 L757.3,369.3 L759.3,370.0 L761.3,370.8 L763.3,371.5 L765.3,372.2 L767.3,373.0 L769.3,373.7 L771.3,374.4 L773.3,375.2 L775.3,375.9 L777.3,376.6 L779.3,377.4 L781.3,378.1 L783.3,378.8 L785.3,379.6 L787.3,380.3 L789.3,381.1 L791.3,381.9 L793.3,382.7 L795.3,383.5 L797.3,384.3 L799.3,385.1 L801.3,385.9 L803.3,386.7 L805.3,387.5 L807.3,388.3 L809.3,389.1 L811.3,389.9 L813.3,390.7 L815.3,391.5 L817.3,392.3 L819.3,393.1 L821.3,393.9 L823.3,394.7 L825.3,395.5 L827.3,396.3 L829.3,397.1 L831.3,398.0 L833.3,398.8 L835.3,399.7 L837.3,400.6 L839.3,401.5 L841.3,402.5 L843.3,403.4 L845.3,404.3 L847.3,405.3 L849.3,406.2 L851.3,407.1 L853.3,408.1 L855.3,409.0 L857.3,409.9 L859.3,410.7 L861.3,411.4 L863.3,412.0 L865.3,412.5 L867.3,413.0 L869.3,413.5 L871.3,414.0 L873.3,414.5 L875.3,415.0 L877.3,415.5 L879.3,416.1 L881.3,416.6 L883.3,417.1 L885.3,417.6 L887.3,418.1 L889.3,418.6 L891.3,419.1 L893.3,419.6 L895.3,420.0 L897.3,420.4 L899.3,420.8 L901.3,421.1 L903.3,421.5 L905.3,421.8 L907.3,422.1 L909.3,422.4 L911.3,422.7 L913.3,423.0 L915.3,423.3 L917.3,423.6 L919.3,423.8 L921.3,424.1 L923.3,424.3 L925.3,424.5 L927.3,424.7 L929.3,424.8 L931.3,425.0 L933.3,425.2 L935.3,425.4 L937.3,425.6 L939.3,425.8 L941.3,426.0 L943.3,426.2 L945.3,426.4 L947.3,426.6 L949.3,426.8 L951.3,427.1 L953.3,427.3 L955.3,427.5 L957.3,427.8 L959.3,428.0 L961.3,428.2 L963.3,428.4 L965.3,428.7 L967.3,428.9 L969.3,429.1 L971.3,429.4 L973.3,429.6 L975.3,429.8 L977.3,430.0 L979.3,430.3 L981.3,430.5 L983.3,430.6 L985.3,430.8 L987.3,430.9 L989.3,431.0 L991.3,431.1 L993.3,431.2 L995.3,431.3 L997.3,431.4 L999.3,431.5 L1001.3,431.6 L1003.3,431.6 L1005.3,431.7 L1007.3,431.8 L1009.3,431.9 L1011.3,432.0 L1013.3,432.1 L1015.3,432.2 L1017.3,432.3 L1019.3,432.4 L1021.3,432.5 L1023.3,432.6 L1025.3,432.7 L1027.3,432.8 L1029.3,432.9 L1031.3,433.0 L1033.3,433.2 L1035.3,433.3 L1037.3,433.4 L1039.3,433.5 L1041.3,433.7 L1043.3,433.9 L1045.3,434.2 L1047.3,434.5 L1049.3,434.7 L1051.3,435.0 L1053.3,435.2 L1055.3,435.5 L1057.3,435.8 L1059.3,436.0 L1061.3,436.2 L1063.3,436.4 L1065.3,436.5 L1067.3,436.6 L1069.3,436.7 L1071.3,436.8 L1073.3,436.9 L1075.3,436.9 L1077.3,437.0 L1079.3,437.1 L1081.3,437.1 L1083.3,437.2 L1085.3,437.3 L1087.3,437.3 L1089.3,437.4 L1091.3,437.5 L1093.3,437.5 L1095.3,437.6 L1097.3,437.7 L1099.3,437.8 L1101.3,437.9 L1103.3,438.0 L1105.3,438.1 L1107.3,438.2 L1109.3,438.3 L1111.3,438.5 L1113.3,438.6 L1115.3,438.7 L1117.3,438.8 L1119.3,438.9 L1121.3,439.0 L1123.3,439.2 L1125.3,439.3 L1127.3,439.4 L1129.3,439.5 L1131.3,439.6 L1133.3,439.7 L1135.3,439.9 L1137.3,440.0 L1139.3,440.2 L1141.3,440.4 L1143.3,440.6 L1145.3,440.9 L1147.3,441.1 L1149.3,441.3 L1151.3,441.6 L1153.3,441.8 L1155.3,442.1 L1157.3,442.3 L1159.3,442.5 L1161.3,442.8 L1163.3,443.0 L1165.3,443.2 L1167.3,443.5 L1169.3,443.7 L1171.3,444.0 L1173.3,444.2 L1175.3,444.4 L1177.3,444.7 L1179.3,445.0 L1181.3,445.3 L1183.3,445.7 L1185.3,446.1 L1187.3,446.5 L1189.3,446.9 L1191.3,447.3 L1193.3,447.8 L1195.3,448.2 L1197.3,448.6 L1199.3,449.0 L1201.3,449.4 L1203.3,449.8 L1205.3,450.3 L1207.3,450.7 L1209.3,451.1 L1211.3,451.5 L1213.3,451.9 L1215.3,452.4 L1217.3,452.9 L1219.3,453.5 L1221.3,454.1 L1223.3,454.9 L1225.3,455.6 L1227.3,456.3 L1229.3,457.1 L1231.3,457.8 L1233.3,458.5 L1235.3,459.3 L1237.3,460.0 L1239.3,460.8 L1241.3,461.6 L1243.3,462.4 L1245.3,463.2 L1247.3,464.1 L1249.3,464.9 L1251.3,465.8 L1253.3,466.6 L1255.3,467.5 L1257.3,468.3 L1259.3,469.2 L1261.3,470.1 L1263.3,471.0 L1265.3,471.8 L1267.3,472.7 L1269.3,473.6 L1271.3,474.5 L1273.3,475.4 L1275.3,476.2 L1277.3,477.1 L1279.3,478.0 L1281.3,478.9 L1283.3,479.8 L1285.3,480.6 L1287.3,481.5 L1289.3,482.4 L1291.3,483.3 L1293.3,484.1 L1295.3,484.9 L1297.3,485.6 L1299.3,486.4 L1301.3,487.0 L1303.3,487.7 L1305.3,488.4 L1307.3,489.1 L1309.3,489.8 L1311.3,490.5 L1313.3,491.1 L1315.3,491.8 L1317.3,492.5 L1319.3,493.2 L1321.3,493.9 L1323.3,494.6 L1325.3,495.2 L1327.3,495.9 L1329.3,496.6 L1331.3,497.3 L1333.3,497.9 L1335.3,498.4 L1336.5,498.7" fill="none" stroke="#C97A30" stroke-width="2.5" stroke-linejoin="round"/>
<!-- dashed lines -->
<line x1="507.9" y1="77.8" x2="516.9" y2="689" stroke="#000" stroke-width="3.6" stroke-linecap="round" stroke-dasharray="12.2 13.77"/>
<line x1="1079.4" y1="77.8" x2="1079.4" y2="689" stroke="#000" stroke-width="3.6" stroke-linecap="round" stroke-dasharray="12.2 13.77"/>
<circle cx="769.6" cy="648.5" r="20.2" fill="#000"/>
<line x1="794.10" y1="648.50" x2="810.10" y2="648.50" stroke="#000" stroke-width="5"/>
<line x1="786.92" y1="665.82" x2="798.24" y2="677.14" stroke="#000" stroke-width="5"/>
<line x1="769.60" y1="673.00" x2="769.60" y2="689.00" stroke="#000" stroke-width="5"/>
<line x1="752.28" y1="665.82" x2="740.96" y2="677.14" stroke="#000" stroke-width="5"/>
<line x1="745.10" y1="648.50" x2="729.10" y2="648.50" stroke="#000" stroke-width="5"/>
<line x1="752.28" y1="631.18" x2="740.96" y2="619.86" stroke="#000" stroke-width="5"/>
<line x1="769.60" y1="624.00" x2="769.60" y2="608.00" stroke="#000" stroke-width="5"/>
<line x1="786.92" y1="631.18" x2="798.24" y2="619.86" stroke="#000" stroke-width="5"/>
<path fill="#000" fill-rule="evenodd" d="M446.1,646.3 a33.9,33.9 0 1,0 67.8,0 a33.9,33.9 0 1,0 -67.8,0 Z" mask="url(#mm0)"/>
<mask id="mm0"><rect x="0" y="0" width="1416" height="860" fill="#fff"/><circle cx="499.7" cy="636.1" r="35.2" fill="#000"/></mask>
<path d="M440.40,611.99 L440.43,618.50 L445.80,622.16 L439.62,624.20 L437.80,630.45 L433.95,625.20 L427.45,625.40 L431.25,620.12 L429.05,613.99 L435.25,615.97 Z" fill="#000" stroke="#000" stroke-width="1.8" stroke-linejoin="round"/>
<path d="M432.82,647.89 L433.92,651.65 L437.64,652.88 L434.40,655.08 L434.39,659.00 L431.29,656.61 L427.56,657.80 L428.88,654.11 L426.59,650.93 L430.51,651.05 Z" fill="#000" stroke="#000" stroke-width="1.1" stroke-linejoin="round"/>
<path fill="#000" fill-rule="evenodd" d="M1117.1,646.3 a33.9,33.9 0 1,0 67.8,0 a33.9,33.9 0 1,0 -67.8,0 Z" mask="url(#mm671)"/>
<mask id="mm671"><rect x="0" y="0" width="1416" height="860" fill="#fff"/><circle cx="1170.7" cy="636.1" r="35.2" fill="#000"/></mask>
<path d="M1111.40,611.99 L1111.43,618.50 L1116.80,622.16 L1110.62,624.20 L1108.80,630.45 L1104.95,625.20 L1098.45,625.40 L1102.25,620.12 L1100.05,613.99 L1106.25,615.97 Z" fill="#000" stroke="#000" stroke-width="1.8" stroke-linejoin="round"/>
<path d="M1103.82,647.89 L1104.92,651.65 L1108.64,652.88 L1105.40,655.08 L1105.39,659.00 L1102.29,656.61 L1098.56,657.80 L1099.88,654.11 L1097.59,650.93 L1101.51,651.05 Z" fill="#000" stroke="#000" stroke-width="1.1" stroke-linejoin="round"/>
<!-- axes -->
<g stroke="#262626" stroke-width="2.4" fill="none" stroke-linecap="round" stroke-linejoin="round">
<path d="M133.5,35.2 H151.7 V679.4 H133.5"/>
<path d="M133.5,249.9 H151.7 M133.5,464.6 H151.7"/>
<path d="M197.3,725 V707 H1336.8 V725"/>
<path d="M482.2,707 V725 M767.1,707 V725 M1052,707 V725"/>
</g>
<g font-size="46" fill="#000" text-anchor="middle">
<text transform="translate(108.3,34.2) rotate(-90)">30</text>
<text transform="translate(108.3,249.9) rotate(-90)">25</text>
<text transform="translate(108.3,464.6) rotate(-90)">20</text>
<text transform="translate(108.3,677.9) rotate(-90)">15</text>
<text transform="translate(35.6,357.6) rotate(-90)" textLength="363" lengthAdjust="spacingAndGlyphs">Temperature (°C)</text>
</g>
<g font-size="45" fill="#000" text-anchor="middle">
<text x="195.6" y="773">0</text>
<text x="480.1" y="773">6</text>
<text x="768.1" y="773">12</text>
<text x="1051.1" y="773">18</text>
<text x="1335.5" y="773">24</text>
<text x="765.4" y="848.7" textLength="226" lengthAdjust="spacingAndGlyphs">Time (24h)</text>
</g>
<text transform="translate(1413,643) rotate(-90)" font-size="23.5" fill="#707082" text-anchor="middle">fitted values</text>
<!-- legend -->
<path d="M292.6,32.5 L322.2,32.5 Q323.6,34.35 322.2,36.2 L289.7,36.2 Z" fill="#62168E"/>
<path d="M620.4,32.4 L658,32.4 Q659.3,34.2 658,36 L618,36 Z" fill="#8A5322"/>
<line x1="956.9" y1="34.4" x2="983" y2="34.4" stroke="#D08238" stroke-width="3.5" stroke-linecap="round"/>
<g font-size="30" fill="#000">
<text x="357" y="44.8" font-size="31" textLength="96" lengthAdjust="spacingAndGlyphs">Classic</text>
<text x="729.8" y="23.8" textLength="157" lengthAdjust="spacingAndGlyphs">Ncube PH1</text>
<text x="705.6" y="66.2" textLength="203.8" lengthAdjust="spacingAndGlyphs">main chamber</text>
<text x="1023.8" y="44.3" textLength="378.2" lengthAdjust="spacingAndGlyphs">Ncube PH1 lower chamber</text>
<text x="173.2" y="129.4" textLength="310" lengthAdjust="spacingAndGlyphs">*Classic vs Ncube PH1</text>
<text x="228" y="170.9" textLength="203.6" lengthAdjust="spacingAndGlyphs">main chamber</text>
<text x="547" y="118.3" textLength="518" lengthAdjust="spacingAndGlyphs">*Classic vs Ncube PH1 main chamber</text>
</g>
</svg>
</body></html>
